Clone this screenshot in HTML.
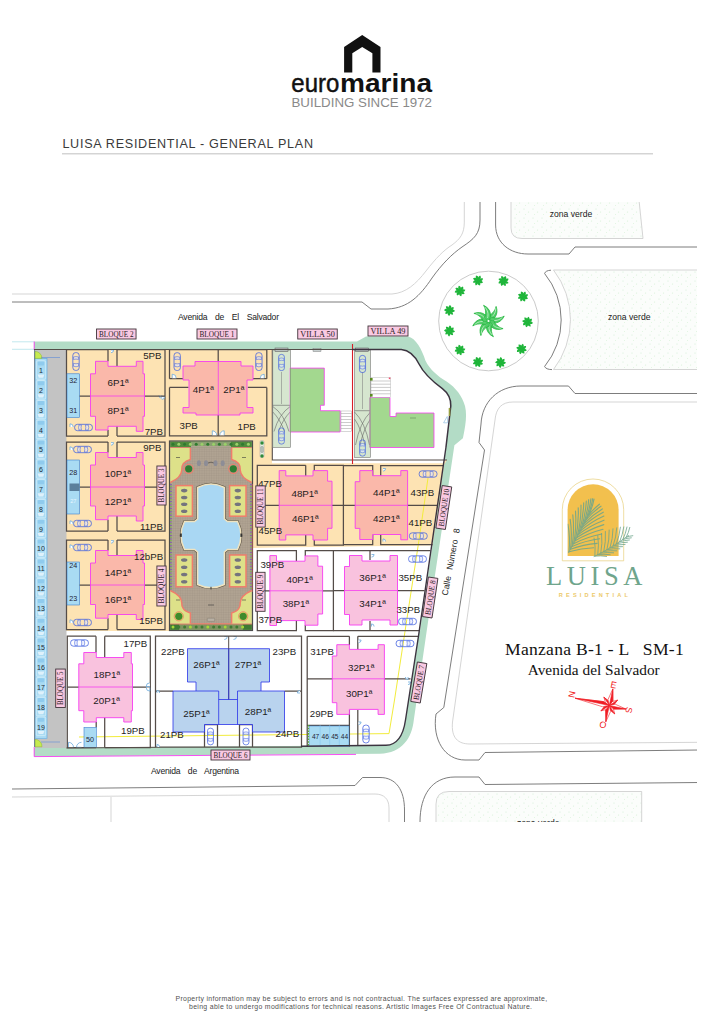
<!DOCTYPE html>
<html lang="en"><head><meta charset="utf-8"><title>Luisa Residential - General Plan</title>
<style>
html,body{margin:0;padding:0;background:#fff}
body{width:724px;height:1024px;overflow:hidden;position:relative;font-family:"Liberation Sans",sans-serif}
svg{position:absolute;left:0;top:0;display:block}
.ss{font-family:"Liberation Sans",sans-serif}
.sf{font-family:"Liberation Serif",serif}
</style></head><body>
<svg width="724" height="1024" viewBox="0 0 724 1024">
<defs>
<clipPath id="mapclip"><rect x="12" y="202" width="685" height="620"/></clipPath>
<pattern id="stip" width="9" height="9" patternUnits="userSpaceOnUse"><rect width="9" height="9" fill="#fbfdfb"/><circle cx="2" cy="2" r="0.55" fill="#d2f0d4"/><circle cx="6.5" cy="5" r="0.55" fill="#d8f2d8"/><circle cx="3.5" cy="7.5" r="0.5" fill="#dcf4dc"/></pattern>
<symbol id="car" viewBox="0 0 20 8" overflow="visible"><rect x="0.5" y="0.6" width="19" height="6.8" rx="3" fill="none" stroke="#4664e0" stroke-width="0.85"/><path d="M5.2 1.3 Q4.2 4 5.2 6.7 H7.8 Q7 4 7.8 1.3Z M12 1.3 Q12.8 4 12 6.7 H15 Q16.2 4 15 1.3Z" fill="#dfe6ff" fill-opacity="0.55" stroke="#4664e0" stroke-width="0.6"/></symbol>
<pattern id="pav" width="2.4" height="2.4" patternUnits="userSpaceOnUse"><rect width="2.4" height="2.4" fill="#b0a392"/><path d="M0 0H2.4M0 0V2.4" stroke="#978a7a" stroke-width="0.35"/></pattern>
<clipPath id="archclip"><path d="M567.6 556 V509.8 A25.5 25.5 0 0 1 618.6 509.8 V556 Z"/></clipPath>
</defs>
<g id="header">
<path d="M362.2 35 L344.1 47.1 V72.5 H352.3 V53.3 L362.2 47.1 L372.4 53.3 V72.5 H380.5 V47.1 Z" fill="#111"/>
<text class="ss" x="291.3" y="92.1" font-size="25" fill="#111" stroke="#111" stroke-width="0.45" textLength="48" lengthAdjust="spacingAndGlyphs">euro</text>
<text class="ss" x="340" y="92.1" font-size="25" font-weight="bold" fill="#111" textLength="92" lengthAdjust="spacingAndGlyphs">marina</text>
<text class="ss" x="291.5" y="106.9" font-size="12.6" fill="#8a8a8a" textLength="140.5" lengthAdjust="spacingAndGlyphs">BUILDING SINCE 1972</text>
<text class="ss" x="62.4" y="148.2" font-size="12.6" fill="#3a3a3a" textLength="250.6" lengthAdjust="spacing">LUISA RESIDENTIAL - GENERAL PLAN</text>
<rect x="62" y="153.4" width="591" height="0.9" fill="#b8b8b8"/>
</g>
<text class="ss" x="361.3" y="1001" font-size="6.9" fill="#505050" text-anchor="middle" textLength="371.6" lengthAdjust="spacing">Property information may be subject to errors and is not contractual. The surfaces expressed are approximate,</text>
<text class="ss" x="360.5" y="1009.2" font-size="6.9" fill="#505050" text-anchor="middle" textLength="343" lengthAdjust="spacing">being able to undergo modifications for technical reasons. Artistic Images Free Of Contractual Nature.</text>
<g id="roads" clip-path="url(#mapclip)" fill="none" stroke-width="0.9">
<path d="M511 200 V228 Q511 238.5 522 238.5 H643 L639 200 Z" fill="url(#stip)" stroke="#d0d0d0"/>
<path d="M700 270 H553.5 A81.5 81.5 0 0 1 553.5 369.5 H700 Z" fill="url(#stip)" stroke="#d0d0d0"/>
<path d="M551 270.2 Q545.5 270.5 544.6 273.5 A73.5 73.5 0 0 1 544.6 366.5 Q546 369.5 552 369.6" stroke="#6e6e6e"/>
<path d="M436 830 V804 Q436 791.5 449 791.5 H641.7 V830 Z" fill="url(#stip)" stroke="#d0d0d0"/>
<path d="M12 294 H392 C406 293 416 284 426 271 C436 258 444 250 452 245 C460 239 464.3 234 464.3 222 V200" stroke="#d0d0d0"/>
<path d="M12 302 H362 L371 309 H388 C408 308 420 296 432 278 C442 264 452 254 462 247 C474 239 480 234 480 220 V200" stroke="#6e6e6e"/>
<path d="M495.6 200 V225 C495.6 243 510 254 528 254 H569 L575 247 H700" stroke="#6e6e6e"/>
<circle cx="488.5" cy="321" r="49.8" stroke="#c4c4c4" fill="#fff"/>
<path d="M700 393.5 H575 L568.5 386 H521 C498 386 482 402 481 424 L479 442.5 L484.5 450 L443.8 707.5 L436 714 C432 740 445 760 465 760 H479 L485 752.5 L700 750" stroke="#6e6e6e"/>
<path d="M700 402 H513 C502 402 496 408 495 420 L452.5 722 C451 738 458 744 470 744 L700 742.3" stroke="#d0d0d0"/>
<path d="M12 789 L355 785.5 L362.5 777.5 H380 C396 777.5 404.5 790 404.5 810 V830" stroke="#6e6e6e"/>
<path d="M12 797 L375 794 C384 794 389 799 389 808 V830" stroke="#d0d0d0"/>
<path d="M111 797 V830" stroke="#d0d0d0"/>
<path d="M700 782.5 L485 784.5 L479 777 H455 C432 777 420 795 420 822 V830" stroke="#6e6e6e"/>
</g>
<g id="palms">
<path transform="translate(478 280.5) rotate(16.0)" d="M0 0 C2.27 -1.62 2.70 -4.05 0.65 -5.40 C-1.19 -3.78 -1.08 -1.62 0 0Z" fill="#1fb53a"/><path transform="translate(478 280.5) rotate(61.0)" d="M0 0 C2.27 -1.62 2.70 -4.05 0.65 -5.40 C-1.19 -3.78 -1.08 -1.62 0 0Z" fill="#1fb53a"/><path transform="translate(478 280.5) rotate(106.0)" d="M0 0 C2.27 -1.62 2.70 -4.05 0.65 -5.40 C-1.19 -3.78 -1.08 -1.62 0 0Z" fill="#1fb53a"/><path transform="translate(478 280.5) rotate(151.0)" d="M0 0 C2.27 -1.62 2.70 -4.05 0.65 -5.40 C-1.19 -3.78 -1.08 -1.62 0 0Z" fill="#1fb53a"/><path transform="translate(478 280.5) rotate(196.0)" d="M0 0 C2.27 -1.62 2.70 -4.05 0.65 -5.40 C-1.19 -3.78 -1.08 -1.62 0 0Z" fill="#1fb53a"/><path transform="translate(478 280.5) rotate(241.0)" d="M0 0 C2.27 -1.62 2.70 -4.05 0.65 -5.40 C-1.19 -3.78 -1.08 -1.62 0 0Z" fill="#1fb53a"/><path transform="translate(478 280.5) rotate(286.0)" d="M0 0 C2.27 -1.62 2.70 -4.05 0.65 -5.40 C-1.19 -3.78 -1.08 -1.62 0 0Z" fill="#1fb53a"/><path transform="translate(478 280.5) rotate(331.0)" d="M0 0 C2.27 -1.62 2.70 -4.05 0.65 -5.40 C-1.19 -3.78 -1.08 -1.62 0 0Z" fill="#1fb53a"/><circle cx="478" cy="280.5" r="1.19" fill="#1fb53a"/>
<path transform="translate(503.5 281) rotate(14.5)" d="M0 0 C2.27 -1.62 2.70 -4.05 0.65 -5.40 C-1.19 -3.78 -1.08 -1.62 0 0Z" fill="#1fb53a"/><path transform="translate(503.5 281) rotate(59.5)" d="M0 0 C2.27 -1.62 2.70 -4.05 0.65 -5.40 C-1.19 -3.78 -1.08 -1.62 0 0Z" fill="#1fb53a"/><path transform="translate(503.5 281) rotate(104.5)" d="M0 0 C2.27 -1.62 2.70 -4.05 0.65 -5.40 C-1.19 -3.78 -1.08 -1.62 0 0Z" fill="#1fb53a"/><path transform="translate(503.5 281) rotate(149.5)" d="M0 0 C2.27 -1.62 2.70 -4.05 0.65 -5.40 C-1.19 -3.78 -1.08 -1.62 0 0Z" fill="#1fb53a"/><path transform="translate(503.5 281) rotate(194.5)" d="M0 0 C2.27 -1.62 2.70 -4.05 0.65 -5.40 C-1.19 -3.78 -1.08 -1.62 0 0Z" fill="#1fb53a"/><path transform="translate(503.5 281) rotate(239.5)" d="M0 0 C2.27 -1.62 2.70 -4.05 0.65 -5.40 C-1.19 -3.78 -1.08 -1.62 0 0Z" fill="#1fb53a"/><path transform="translate(503.5 281) rotate(284.5)" d="M0 0 C2.27 -1.62 2.70 -4.05 0.65 -5.40 C-1.19 -3.78 -1.08 -1.62 0 0Z" fill="#1fb53a"/><path transform="translate(503.5 281) rotate(329.5)" d="M0 0 C2.27 -1.62 2.70 -4.05 0.65 -5.40 C-1.19 -3.78 -1.08 -1.62 0 0Z" fill="#1fb53a"/><circle cx="503.5" cy="281" r="1.19" fill="#1fb53a"/>
<path transform="translate(460 291) rotate(25.0)" d="M0 0 C2.27 -1.62 2.70 -4.05 0.65 -5.40 C-1.19 -3.78 -1.08 -1.62 0 0Z" fill="#1fb53a"/><path transform="translate(460 291) rotate(70.0)" d="M0 0 C2.27 -1.62 2.70 -4.05 0.65 -5.40 C-1.19 -3.78 -1.08 -1.62 0 0Z" fill="#1fb53a"/><path transform="translate(460 291) rotate(115.0)" d="M0 0 C2.27 -1.62 2.70 -4.05 0.65 -5.40 C-1.19 -3.78 -1.08 -1.62 0 0Z" fill="#1fb53a"/><path transform="translate(460 291) rotate(160.0)" d="M0 0 C2.27 -1.62 2.70 -4.05 0.65 -5.40 C-1.19 -3.78 -1.08 -1.62 0 0Z" fill="#1fb53a"/><path transform="translate(460 291) rotate(205.0)" d="M0 0 C2.27 -1.62 2.70 -4.05 0.65 -5.40 C-1.19 -3.78 -1.08 -1.62 0 0Z" fill="#1fb53a"/><path transform="translate(460 291) rotate(250.0)" d="M0 0 C2.27 -1.62 2.70 -4.05 0.65 -5.40 C-1.19 -3.78 -1.08 -1.62 0 0Z" fill="#1fb53a"/><path transform="translate(460 291) rotate(295.0)" d="M0 0 C2.27 -1.62 2.70 -4.05 0.65 -5.40 C-1.19 -3.78 -1.08 -1.62 0 0Z" fill="#1fb53a"/><path transform="translate(460 291) rotate(340.0)" d="M0 0 C2.27 -1.62 2.70 -4.05 0.65 -5.40 C-1.19 -3.78 -1.08 -1.62 0 0Z" fill="#1fb53a"/><circle cx="460" cy="291" r="1.19" fill="#1fb53a"/>
<path transform="translate(523 296.5) rotate(16.0)" d="M0 0 C2.27 -1.62 2.70 -4.05 0.65 -5.40 C-1.19 -3.78 -1.08 -1.62 0 0Z" fill="#1fb53a"/><path transform="translate(523 296.5) rotate(61.0)" d="M0 0 C2.27 -1.62 2.70 -4.05 0.65 -5.40 C-1.19 -3.78 -1.08 -1.62 0 0Z" fill="#1fb53a"/><path transform="translate(523 296.5) rotate(106.0)" d="M0 0 C2.27 -1.62 2.70 -4.05 0.65 -5.40 C-1.19 -3.78 -1.08 -1.62 0 0Z" fill="#1fb53a"/><path transform="translate(523 296.5) rotate(151.0)" d="M0 0 C2.27 -1.62 2.70 -4.05 0.65 -5.40 C-1.19 -3.78 -1.08 -1.62 0 0Z" fill="#1fb53a"/><path transform="translate(523 296.5) rotate(196.0)" d="M0 0 C2.27 -1.62 2.70 -4.05 0.65 -5.40 C-1.19 -3.78 -1.08 -1.62 0 0Z" fill="#1fb53a"/><path transform="translate(523 296.5) rotate(241.0)" d="M0 0 C2.27 -1.62 2.70 -4.05 0.65 -5.40 C-1.19 -3.78 -1.08 -1.62 0 0Z" fill="#1fb53a"/><path transform="translate(523 296.5) rotate(286.0)" d="M0 0 C2.27 -1.62 2.70 -4.05 0.65 -5.40 C-1.19 -3.78 -1.08 -1.62 0 0Z" fill="#1fb53a"/><path transform="translate(523 296.5) rotate(331.0)" d="M0 0 C2.27 -1.62 2.70 -4.05 0.65 -5.40 C-1.19 -3.78 -1.08 -1.62 0 0Z" fill="#1fb53a"/><circle cx="523" cy="296.5" r="1.19" fill="#1fb53a"/>
<path transform="translate(449.5 310.5) rotate(41.5)" d="M0 0 C2.27 -1.62 2.70 -4.05 0.65 -5.40 C-1.19 -3.78 -1.08 -1.62 0 0Z" fill="#1fb53a"/><path transform="translate(449.5 310.5) rotate(86.5)" d="M0 0 C2.27 -1.62 2.70 -4.05 0.65 -5.40 C-1.19 -3.78 -1.08 -1.62 0 0Z" fill="#1fb53a"/><path transform="translate(449.5 310.5) rotate(131.5)" d="M0 0 C2.27 -1.62 2.70 -4.05 0.65 -5.40 C-1.19 -3.78 -1.08 -1.62 0 0Z" fill="#1fb53a"/><path transform="translate(449.5 310.5) rotate(176.5)" d="M0 0 C2.27 -1.62 2.70 -4.05 0.65 -5.40 C-1.19 -3.78 -1.08 -1.62 0 0Z" fill="#1fb53a"/><path transform="translate(449.5 310.5) rotate(221.5)" d="M0 0 C2.27 -1.62 2.70 -4.05 0.65 -5.40 C-1.19 -3.78 -1.08 -1.62 0 0Z" fill="#1fb53a"/><path transform="translate(449.5 310.5) rotate(266.5)" d="M0 0 C2.27 -1.62 2.70 -4.05 0.65 -5.40 C-1.19 -3.78 -1.08 -1.62 0 0Z" fill="#1fb53a"/><path transform="translate(449.5 310.5) rotate(311.5)" d="M0 0 C2.27 -1.62 2.70 -4.05 0.65 -5.40 C-1.19 -3.78 -1.08 -1.62 0 0Z" fill="#1fb53a"/><path transform="translate(449.5 310.5) rotate(356.5)" d="M0 0 C2.27 -1.62 2.70 -4.05 0.65 -5.40 C-1.19 -3.78 -1.08 -1.62 0 0Z" fill="#1fb53a"/><circle cx="449.5" cy="310.5" r="1.19" fill="#1fb53a"/>
<path transform="translate(527.5 322) rotate(2.5)" d="M0 0 C2.27 -1.62 2.70 -4.05 0.65 -5.40 C-1.19 -3.78 -1.08 -1.62 0 0Z" fill="#1fb53a"/><path transform="translate(527.5 322) rotate(47.5)" d="M0 0 C2.27 -1.62 2.70 -4.05 0.65 -5.40 C-1.19 -3.78 -1.08 -1.62 0 0Z" fill="#1fb53a"/><path transform="translate(527.5 322) rotate(92.5)" d="M0 0 C2.27 -1.62 2.70 -4.05 0.65 -5.40 C-1.19 -3.78 -1.08 -1.62 0 0Z" fill="#1fb53a"/><path transform="translate(527.5 322) rotate(137.5)" d="M0 0 C2.27 -1.62 2.70 -4.05 0.65 -5.40 C-1.19 -3.78 -1.08 -1.62 0 0Z" fill="#1fb53a"/><path transform="translate(527.5 322) rotate(182.5)" d="M0 0 C2.27 -1.62 2.70 -4.05 0.65 -5.40 C-1.19 -3.78 -1.08 -1.62 0 0Z" fill="#1fb53a"/><path transform="translate(527.5 322) rotate(227.5)" d="M0 0 C2.27 -1.62 2.70 -4.05 0.65 -5.40 C-1.19 -3.78 -1.08 -1.62 0 0Z" fill="#1fb53a"/><path transform="translate(527.5 322) rotate(272.5)" d="M0 0 C2.27 -1.62 2.70 -4.05 0.65 -5.40 C-1.19 -3.78 -1.08 -1.62 0 0Z" fill="#1fb53a"/><path transform="translate(527.5 322) rotate(317.5)" d="M0 0 C2.27 -1.62 2.70 -4.05 0.65 -5.40 C-1.19 -3.78 -1.08 -1.62 0 0Z" fill="#1fb53a"/><circle cx="527.5" cy="322" r="1.19" fill="#1fb53a"/>
<path transform="translate(449.5 331) rotate(41.5)" d="M0 0 C2.27 -1.62 2.70 -4.05 0.65 -5.40 C-1.19 -3.78 -1.08 -1.62 0 0Z" fill="#1fb53a"/><path transform="translate(449.5 331) rotate(86.5)" d="M0 0 C2.27 -1.62 2.70 -4.05 0.65 -5.40 C-1.19 -3.78 -1.08 -1.62 0 0Z" fill="#1fb53a"/><path transform="translate(449.5 331) rotate(131.5)" d="M0 0 C2.27 -1.62 2.70 -4.05 0.65 -5.40 C-1.19 -3.78 -1.08 -1.62 0 0Z" fill="#1fb53a"/><path transform="translate(449.5 331) rotate(176.5)" d="M0 0 C2.27 -1.62 2.70 -4.05 0.65 -5.40 C-1.19 -3.78 -1.08 -1.62 0 0Z" fill="#1fb53a"/><path transform="translate(449.5 331) rotate(221.5)" d="M0 0 C2.27 -1.62 2.70 -4.05 0.65 -5.40 C-1.19 -3.78 -1.08 -1.62 0 0Z" fill="#1fb53a"/><path transform="translate(449.5 331) rotate(266.5)" d="M0 0 C2.27 -1.62 2.70 -4.05 0.65 -5.40 C-1.19 -3.78 -1.08 -1.62 0 0Z" fill="#1fb53a"/><path transform="translate(449.5 331) rotate(311.5)" d="M0 0 C2.27 -1.62 2.70 -4.05 0.65 -5.40 C-1.19 -3.78 -1.08 -1.62 0 0Z" fill="#1fb53a"/><path transform="translate(449.5 331) rotate(356.5)" d="M0 0 C2.27 -1.62 2.70 -4.05 0.65 -5.40 C-1.19 -3.78 -1.08 -1.62 0 0Z" fill="#1fb53a"/><circle cx="449.5" cy="331" r="1.19" fill="#1fb53a"/>
<path transform="translate(460 350) rotate(25.0)" d="M0 0 C2.27 -1.62 2.70 -4.05 0.65 -5.40 C-1.19 -3.78 -1.08 -1.62 0 0Z" fill="#1fb53a"/><path transform="translate(460 350) rotate(70.0)" d="M0 0 C2.27 -1.62 2.70 -4.05 0.65 -5.40 C-1.19 -3.78 -1.08 -1.62 0 0Z" fill="#1fb53a"/><path transform="translate(460 350) rotate(115.0)" d="M0 0 C2.27 -1.62 2.70 -4.05 0.65 -5.40 C-1.19 -3.78 -1.08 -1.62 0 0Z" fill="#1fb53a"/><path transform="translate(460 350) rotate(160.0)" d="M0 0 C2.27 -1.62 2.70 -4.05 0.65 -5.40 C-1.19 -3.78 -1.08 -1.62 0 0Z" fill="#1fb53a"/><path transform="translate(460 350) rotate(205.0)" d="M0 0 C2.27 -1.62 2.70 -4.05 0.65 -5.40 C-1.19 -3.78 -1.08 -1.62 0 0Z" fill="#1fb53a"/><path transform="translate(460 350) rotate(250.0)" d="M0 0 C2.27 -1.62 2.70 -4.05 0.65 -5.40 C-1.19 -3.78 -1.08 -1.62 0 0Z" fill="#1fb53a"/><path transform="translate(460 350) rotate(295.0)" d="M0 0 C2.27 -1.62 2.70 -4.05 0.65 -5.40 C-1.19 -3.78 -1.08 -1.62 0 0Z" fill="#1fb53a"/><path transform="translate(460 350) rotate(340.0)" d="M0 0 C2.27 -1.62 2.70 -4.05 0.65 -5.40 C-1.19 -3.78 -1.08 -1.62 0 0Z" fill="#1fb53a"/><circle cx="460" cy="350" r="1.19" fill="#1fb53a"/>
<path transform="translate(521.5 349) rotate(5.5)" d="M0 0 C2.27 -1.62 2.70 -4.05 0.65 -5.40 C-1.19 -3.78 -1.08 -1.62 0 0Z" fill="#1fb53a"/><path transform="translate(521.5 349) rotate(50.5)" d="M0 0 C2.27 -1.62 2.70 -4.05 0.65 -5.40 C-1.19 -3.78 -1.08 -1.62 0 0Z" fill="#1fb53a"/><path transform="translate(521.5 349) rotate(95.5)" d="M0 0 C2.27 -1.62 2.70 -4.05 0.65 -5.40 C-1.19 -3.78 -1.08 -1.62 0 0Z" fill="#1fb53a"/><path transform="translate(521.5 349) rotate(140.5)" d="M0 0 C2.27 -1.62 2.70 -4.05 0.65 -5.40 C-1.19 -3.78 -1.08 -1.62 0 0Z" fill="#1fb53a"/><path transform="translate(521.5 349) rotate(185.5)" d="M0 0 C2.27 -1.62 2.70 -4.05 0.65 -5.40 C-1.19 -3.78 -1.08 -1.62 0 0Z" fill="#1fb53a"/><path transform="translate(521.5 349) rotate(230.5)" d="M0 0 C2.27 -1.62 2.70 -4.05 0.65 -5.40 C-1.19 -3.78 -1.08 -1.62 0 0Z" fill="#1fb53a"/><path transform="translate(521.5 349) rotate(275.5)" d="M0 0 C2.27 -1.62 2.70 -4.05 0.65 -5.40 C-1.19 -3.78 -1.08 -1.62 0 0Z" fill="#1fb53a"/><path transform="translate(521.5 349) rotate(320.5)" d="M0 0 C2.27 -1.62 2.70 -4.05 0.65 -5.40 C-1.19 -3.78 -1.08 -1.62 0 0Z" fill="#1fb53a"/><circle cx="521.5" cy="349" r="1.19" fill="#1fb53a"/>
<path transform="translate(478 362) rotate(16.0)" d="M0 0 C2.27 -1.62 2.70 -4.05 0.65 -5.40 C-1.19 -3.78 -1.08 -1.62 0 0Z" fill="#1fb53a"/><path transform="translate(478 362) rotate(61.0)" d="M0 0 C2.27 -1.62 2.70 -4.05 0.65 -5.40 C-1.19 -3.78 -1.08 -1.62 0 0Z" fill="#1fb53a"/><path transform="translate(478 362) rotate(106.0)" d="M0 0 C2.27 -1.62 2.70 -4.05 0.65 -5.40 C-1.19 -3.78 -1.08 -1.62 0 0Z" fill="#1fb53a"/><path transform="translate(478 362) rotate(151.0)" d="M0 0 C2.27 -1.62 2.70 -4.05 0.65 -5.40 C-1.19 -3.78 -1.08 -1.62 0 0Z" fill="#1fb53a"/><path transform="translate(478 362) rotate(196.0)" d="M0 0 C2.27 -1.62 2.70 -4.05 0.65 -5.40 C-1.19 -3.78 -1.08 -1.62 0 0Z" fill="#1fb53a"/><path transform="translate(478 362) rotate(241.0)" d="M0 0 C2.27 -1.62 2.70 -4.05 0.65 -5.40 C-1.19 -3.78 -1.08 -1.62 0 0Z" fill="#1fb53a"/><path transform="translate(478 362) rotate(286.0)" d="M0 0 C2.27 -1.62 2.70 -4.05 0.65 -5.40 C-1.19 -3.78 -1.08 -1.62 0 0Z" fill="#1fb53a"/><path transform="translate(478 362) rotate(331.0)" d="M0 0 C2.27 -1.62 2.70 -4.05 0.65 -5.40 C-1.19 -3.78 -1.08 -1.62 0 0Z" fill="#1fb53a"/><circle cx="478" cy="362" r="1.19" fill="#1fb53a"/>
<path transform="translate(500.5 362.5) rotate(38.5)" d="M0 0 C2.27 -1.62 2.70 -4.05 0.65 -5.40 C-1.19 -3.78 -1.08 -1.62 0 0Z" fill="#1fb53a"/><path transform="translate(500.5 362.5) rotate(83.5)" d="M0 0 C2.27 -1.62 2.70 -4.05 0.65 -5.40 C-1.19 -3.78 -1.08 -1.62 0 0Z" fill="#1fb53a"/><path transform="translate(500.5 362.5) rotate(128.5)" d="M0 0 C2.27 -1.62 2.70 -4.05 0.65 -5.40 C-1.19 -3.78 -1.08 -1.62 0 0Z" fill="#1fb53a"/><path transform="translate(500.5 362.5) rotate(173.5)" d="M0 0 C2.27 -1.62 2.70 -4.05 0.65 -5.40 C-1.19 -3.78 -1.08 -1.62 0 0Z" fill="#1fb53a"/><path transform="translate(500.5 362.5) rotate(218.5)" d="M0 0 C2.27 -1.62 2.70 -4.05 0.65 -5.40 C-1.19 -3.78 -1.08 -1.62 0 0Z" fill="#1fb53a"/><path transform="translate(500.5 362.5) rotate(263.5)" d="M0 0 C2.27 -1.62 2.70 -4.05 0.65 -5.40 C-1.19 -3.78 -1.08 -1.62 0 0Z" fill="#1fb53a"/><path transform="translate(500.5 362.5) rotate(308.5)" d="M0 0 C2.27 -1.62 2.70 -4.05 0.65 -5.40 C-1.19 -3.78 -1.08 -1.62 0 0Z" fill="#1fb53a"/><path transform="translate(500.5 362.5) rotate(353.5)" d="M0 0 C2.27 -1.62 2.70 -4.05 0.65 -5.40 C-1.19 -3.78 -1.08 -1.62 0 0Z" fill="#1fb53a"/><circle cx="500.5" cy="362.5" r="1.19" fill="#1fb53a"/>
<path transform="translate(488.5 321) rotate(8)" d="M0 0 C5.5 -1.5 9.5 -8 5.5 -15.5 C5 -10.5 2 -6.5 -1.2 -5.2 C-1.6 -3 -1 -1 0 0Z" fill="#4fcb66" stroke="#1fb53a" stroke-width="0.7"/><path transform="translate(488.5 321) rotate(8)" d="M1 -3 C4.5 -5.5 6 -9.5 5.3 -13.5" fill="none" stroke="#e4fbe6" stroke-width="0.6"/><path transform="translate(488.5 321) rotate(53)" d="M0 0 C5.5 -1.5 9.5 -8 5.5 -15.5 C5 -10.5 2 -6.5 -1.2 -5.2 C-1.6 -3 -1 -1 0 0Z" fill="#4fcb66" stroke="#1fb53a" stroke-width="0.7"/><path transform="translate(488.5 321) rotate(53)" d="M1 -3 C4.5 -5.5 6 -9.5 5.3 -13.5" fill="none" stroke="#e4fbe6" stroke-width="0.6"/><path transform="translate(488.5 321) rotate(98)" d="M0 0 C5.5 -1.5 9.5 -8 5.5 -15.5 C5 -10.5 2 -6.5 -1.2 -5.2 C-1.6 -3 -1 -1 0 0Z" fill="#4fcb66" stroke="#1fb53a" stroke-width="0.7"/><path transform="translate(488.5 321) rotate(98)" d="M1 -3 C4.5 -5.5 6 -9.5 5.3 -13.5" fill="none" stroke="#e4fbe6" stroke-width="0.6"/><path transform="translate(488.5 321) rotate(143)" d="M0 0 C5.5 -1.5 9.5 -8 5.5 -15.5 C5 -10.5 2 -6.5 -1.2 -5.2 C-1.6 -3 -1 -1 0 0Z" fill="#4fcb66" stroke="#1fb53a" stroke-width="0.7"/><path transform="translate(488.5 321) rotate(143)" d="M1 -3 C4.5 -5.5 6 -9.5 5.3 -13.5" fill="none" stroke="#e4fbe6" stroke-width="0.6"/><path transform="translate(488.5 321) rotate(188)" d="M0 0 C5.5 -1.5 9.5 -8 5.5 -15.5 C5 -10.5 2 -6.5 -1.2 -5.2 C-1.6 -3 -1 -1 0 0Z" fill="#4fcb66" stroke="#1fb53a" stroke-width="0.7"/><path transform="translate(488.5 321) rotate(188)" d="M1 -3 C4.5 -5.5 6 -9.5 5.3 -13.5" fill="none" stroke="#e4fbe6" stroke-width="0.6"/><path transform="translate(488.5 321) rotate(233)" d="M0 0 C5.5 -1.5 9.5 -8 5.5 -15.5 C5 -10.5 2 -6.5 -1.2 -5.2 C-1.6 -3 -1 -1 0 0Z" fill="#4fcb66" stroke="#1fb53a" stroke-width="0.7"/><path transform="translate(488.5 321) rotate(233)" d="M1 -3 C4.5 -5.5 6 -9.5 5.3 -13.5" fill="none" stroke="#e4fbe6" stroke-width="0.6"/><path transform="translate(488.5 321) rotate(278)" d="M0 0 C5.5 -1.5 9.5 -8 5.5 -15.5 C5 -10.5 2 -6.5 -1.2 -5.2 C-1.6 -3 -1 -1 0 0Z" fill="#4fcb66" stroke="#1fb53a" stroke-width="0.7"/><path transform="translate(488.5 321) rotate(278)" d="M1 -3 C4.5 -5.5 6 -9.5 5.3 -13.5" fill="none" stroke="#e4fbe6" stroke-width="0.6"/><path transform="translate(488.5 321) rotate(323)" d="M0 0 C5.5 -1.5 9.5 -8 5.5 -15.5 C5 -10.5 2 -6.5 -1.2 -5.2 C-1.6 -3 -1 -1 0 0Z" fill="#4fcb66" stroke="#1fb53a" stroke-width="0.7"/><path transform="translate(488.5 321) rotate(323)" d="M1 -3 C4.5 -5.5 6 -9.5 5.3 -13.5" fill="none" stroke="#e4fbe6" stroke-width="0.6"/><circle cx="488.5" cy="321" r="1.1" fill="#fff"/>
</g>
<text class="ss" x="549.7" y="216.6" font-size="8.6" text-anchor="start" fill="#222" >zona verde</text>
<text class="ss" x="608" y="320.2" font-size="8.6" text-anchor="start" fill="#222" >zona verde</text>
<g clip-path="url(#mapclip)">
<text class="ss" x="517" y="825.6" font-size="8.6" text-anchor="start" fill="#222" >zona verde</text>
</g>
<g id="plan">
<path d="M34 341.6 H357 L366 336.6 H407.7 C416 338 422 350 425.4 360.4 C430 370 438 376 446.6 381.6 C456 388 462 396 465 406 C467 414 466 424 462.9 438.2 L454.4 445.3 L428 622 L413.8 720 C412 738 402 753 380 753.8 L34 756.6 Z" fill="#b3dcc6"/>
<path d="M12 341.8 H34 M12 349.3 H34" fill="none" stroke="#a8e0e8" stroke-width="0.7" />
<path id="inner" d="M34 349.5 H401.3 C410 350.3 415 356 419 364 C424 374 432 381 442.4 388.7 C448 393 451 398 450.8 406 L446 447 L418.5 636 L405.5 720 C403 737 396 745 386 745.3 L34 748 Z" fill="#fff"/>
<path d="M66 349.5 H272 V460 H447 L444 465 L432.5 545.5 L253 548 V631 H66 Z" fill="#fde3b3"/>
<path d="M272 349.5 H401.3 C410 350.3 415 356 419 364 C424 374 432 381 442.4 388.7 C448 393 451 398 450.8 406 L446 447 L443.6 463.2 H272Z" fill="#fff"/>
<path d="M253 548 L432.3 545.8 L420 631 H253Z" fill="#fff"/>
<path d="M79 737 L238 735.2 L389 733.6 L394.5 700 L419 540 L428 478" fill="none" stroke="#f2ec3c" stroke-width="1.0" />
<rect x="47" y="349.5" width="19.5" height="398.5" fill="#c3c3c3"/><rect x="34.6" y="349.5" width="13" height="9.5" fill="#c3c3c3"/><rect x="34.6" y="738.5" width="13" height="9.5" fill="#c3c3c3"/>
<rect x="35" y="358.5" width="12" height="380" fill="#a9dbf3" stroke="#5aa6dc" stroke-width="0.6"/>
<rect x="36.3" y="360.8" width="9.4" height="18.4" rx="1" fill="none" stroke="#d9f0fb" stroke-width="0.7"/>
<path d="M37.6 374.5 h6.8 l-1.2 3.2 h-4.4z" fill="#dff1fb"/><rect x="37.8" y="361.4" width="6.4" height="4" rx="1" fill="#8fcbee"/>
<text class="ss" x="41" y="373.2" font-size="7" text-anchor="middle" fill="#1e2a36" >1</text>
<rect x="36.3" y="380.6" width="9.4" height="18.4" rx="1" fill="none" stroke="#d9f0fb" stroke-width="0.7"/>
<path d="M37.6 394.3 h6.8 l-1.2 3.2 h-4.4z" fill="#dff1fb"/><rect x="37.8" y="381.2" width="6.4" height="4" rx="1" fill="#8fcbee"/>
<text class="ss" x="41" y="393.0" font-size="7" text-anchor="middle" fill="#1e2a36" >2</text>
<rect x="36.3" y="400.4" width="9.4" height="18.4" rx="1" fill="none" stroke="#d9f0fb" stroke-width="0.7"/>
<path d="M37.6 414.1 h6.8 l-1.2 3.2 h-4.4z" fill="#dff1fb"/><rect x="37.8" y="401.0" width="6.4" height="4" rx="1" fill="#8fcbee"/>
<text class="ss" x="41" y="412.8" font-size="7" text-anchor="middle" fill="#1e2a36" >3</text>
<rect x="36.3" y="420.2" width="9.4" height="18.4" rx="1" fill="none" stroke="#d9f0fb" stroke-width="0.7"/>
<path d="M37.6 433.9 h6.8 l-1.2 3.2 h-4.4z" fill="#dff1fb"/><rect x="37.8" y="420.8" width="6.4" height="4" rx="1" fill="#8fcbee"/>
<text class="ss" x="41" y="432.59999999999997" font-size="7" text-anchor="middle" fill="#1e2a36" >4</text>
<rect x="36.3" y="440.0" width="9.4" height="18.4" rx="1" fill="none" stroke="#d9f0fb" stroke-width="0.7"/>
<path d="M37.6 453.7 h6.8 l-1.2 3.2 h-4.4z" fill="#dff1fb"/><rect x="37.8" y="440.6" width="6.4" height="4" rx="1" fill="#8fcbee"/>
<text class="ss" x="41" y="452.4" font-size="7" text-anchor="middle" fill="#1e2a36" >5</text>
<rect x="36.3" y="459.8" width="9.4" height="18.4" rx="1" fill="none" stroke="#d9f0fb" stroke-width="0.7"/>
<path d="M37.6 473.5 h6.8 l-1.2 3.2 h-4.4z" fill="#dff1fb"/><rect x="37.8" y="460.4" width="6.4" height="4" rx="1" fill="#8fcbee"/>
<text class="ss" x="41" y="472.2" font-size="7" text-anchor="middle" fill="#1e2a36" >6</text>
<rect x="36.3" y="479.6" width="9.4" height="18.4" rx="1" fill="none" stroke="#d9f0fb" stroke-width="0.7"/>
<path d="M37.6 493.3 h6.8 l-1.2 3.2 h-4.4z" fill="#dff1fb"/><rect x="37.8" y="480.2" width="6.4" height="4" rx="1" fill="#8fcbee"/>
<text class="ss" x="41" y="492.0" font-size="7" text-anchor="middle" fill="#1e2a36" >7</text>
<rect x="36.3" y="499.4" width="9.4" height="18.4" rx="1" fill="none" stroke="#d9f0fb" stroke-width="0.7"/>
<path d="M37.6 513.1 h6.8 l-1.2 3.2 h-4.4z" fill="#dff1fb"/><rect x="37.8" y="500.0" width="6.4" height="4" rx="1" fill="#8fcbee"/>
<text class="ss" x="41" y="511.8" font-size="7" text-anchor="middle" fill="#1e2a36" >8</text>
<rect x="36.3" y="519.2" width="9.4" height="18.4" rx="1" fill="none" stroke="#d9f0fb" stroke-width="0.7"/>
<path d="M37.6 532.9 h6.8 l-1.2 3.2 h-4.4z" fill="#dff1fb"/><rect x="37.8" y="519.8" width="6.4" height="4" rx="1" fill="#8fcbee"/>
<text class="ss" x="41" y="531.6" font-size="7" text-anchor="middle" fill="#1e2a36" >9</text>
<rect x="36.3" y="539.0" width="9.4" height="18.4" rx="1" fill="none" stroke="#d9f0fb" stroke-width="0.7"/>
<path d="M37.6 552.7 h6.8 l-1.2 3.2 h-4.4z" fill="#dff1fb"/><rect x="37.8" y="539.6" width="6.4" height="4" rx="1" fill="#8fcbee"/>
<text class="ss" x="41" y="551.4000000000001" font-size="7" text-anchor="middle" fill="#1e2a36" >10</text>
<rect x="36.3" y="558.8" width="9.4" height="18.4" rx="1" fill="none" stroke="#d9f0fb" stroke-width="0.7"/>
<path d="M37.6 572.5 h6.8 l-1.2 3.2 h-4.4z" fill="#dff1fb"/><rect x="37.8" y="559.4" width="6.4" height="4" rx="1" fill="#8fcbee"/>
<text class="ss" x="41" y="571.2" font-size="7" text-anchor="middle" fill="#1e2a36" >11</text>
<rect x="36.3" y="578.6" width="9.4" height="18.4" rx="1" fill="none" stroke="#d9f0fb" stroke-width="0.7"/>
<path d="M37.6 592.3 h6.8 l-1.2 3.2 h-4.4z" fill="#dff1fb"/><rect x="37.8" y="579.2" width="6.4" height="4" rx="1" fill="#8fcbee"/>
<text class="ss" x="41" y="591.0" font-size="7" text-anchor="middle" fill="#1e2a36" >12</text>
<rect x="36.3" y="598.4" width="9.4" height="18.4" rx="1" fill="none" stroke="#d9f0fb" stroke-width="0.7"/>
<path d="M37.6 612.1 h6.8 l-1.2 3.2 h-4.4z" fill="#dff1fb"/><rect x="37.8" y="599.0" width="6.4" height="4" rx="1" fill="#8fcbee"/>
<text class="ss" x="41" y="610.8000000000001" font-size="7" text-anchor="middle" fill="#1e2a36" >13</text>
<rect x="36.3" y="618.2" width="9.4" height="18.4" rx="1" fill="none" stroke="#d9f0fb" stroke-width="0.7"/>
<path d="M37.6 631.9 h6.8 l-1.2 3.2 h-4.4z" fill="#dff1fb"/><rect x="37.8" y="618.8" width="6.4" height="4" rx="1" fill="#8fcbee"/>
<text class="ss" x="41" y="630.6000000000001" font-size="7" text-anchor="middle" fill="#1e2a36" >14</text>
<rect x="36.3" y="638.0" width="9.4" height="18.4" rx="1" fill="none" stroke="#d9f0fb" stroke-width="0.7"/>
<path d="M37.6 651.7 h6.8 l-1.2 3.2 h-4.4z" fill="#dff1fb"/><rect x="37.8" y="638.6" width="6.4" height="4" rx="1" fill="#8fcbee"/>
<text class="ss" x="41" y="650.4000000000001" font-size="7" text-anchor="middle" fill="#1e2a36" >15</text>
<rect x="36.3" y="657.8" width="9.4" height="18.4" rx="1" fill="none" stroke="#d9f0fb" stroke-width="0.7"/>
<path d="M37.6 671.5 h6.8 l-1.2 3.2 h-4.4z" fill="#dff1fb"/><rect x="37.8" y="658.4" width="6.4" height="4" rx="1" fill="#8fcbee"/>
<text class="ss" x="41" y="670.2" font-size="7" text-anchor="middle" fill="#1e2a36" >16</text>
<rect x="36.3" y="677.6" width="9.4" height="18.4" rx="1" fill="none" stroke="#d9f0fb" stroke-width="0.7"/>
<path d="M37.6 691.3 h6.8 l-1.2 3.2 h-4.4z" fill="#dff1fb"/><rect x="37.8" y="678.2" width="6.4" height="4" rx="1" fill="#8fcbee"/>
<text class="ss" x="41" y="690.0" font-size="7" text-anchor="middle" fill="#1e2a36" >17</text>
<rect x="36.3" y="697.4" width="9.4" height="18.4" rx="1" fill="none" stroke="#d9f0fb" stroke-width="0.7"/>
<path d="M37.6 711.1 h6.8 l-1.2 3.2 h-4.4z" fill="#dff1fb"/><rect x="37.8" y="698.0" width="6.4" height="4" rx="1" fill="#8fcbee"/>
<text class="ss" x="41" y="709.8000000000001" font-size="7" text-anchor="middle" fill="#1e2a36" >18</text>
<rect x="36.3" y="717.2" width="9.4" height="18.4" rx="1" fill="none" stroke="#d9f0fb" stroke-width="0.7"/>
<path d="M37.6 730.9 h6.8 l-1.2 3.2 h-4.4z" fill="#dff1fb"/><rect x="37.8" y="717.8" width="6.4" height="4" rx="1" fill="#8fcbee"/>
<text class="ss" x="41" y="729.6000000000001" font-size="7" text-anchor="middle" fill="#1e2a36" >19</text>
<path d="M35 358.4 V351.4 A7 7 0 0 1 42 358.4Z" fill="#c6ea50" stroke="#8ab830" stroke-width="0.5"/>
<path d="M35 739.4 V746.8 H42 A7 7 0 0 0 35 739.4Z" fill="#c6ea50" stroke="#8ab830" stroke-width="0.5"/>
<path d="M41 357.5 H60" fill="none" stroke="#5a8ad8" stroke-width="0.6" />
<path d="M41 742 H60" fill="none" stroke="#5a8ad8" stroke-width="0.6" />
<path d="M34.2 341.5 V350 M34.2 747 V756.6 L356 754.4" fill="none" stroke="#f63cf0" stroke-width="0.9" />
<path d="M34.6 350 V747" fill="none" stroke="#5e7484" stroke-width="0.9" />
<path d="M108 349.5 H66.5 V436 H108 M117 349.5 H165 V436 H117" fill="none" stroke="#544c48" stroke-width="1.25" />
<path transform="translate(161.8 395.4) rotate(180) scale(1 1)" d="M0 0 V-2.8 A2.8 2.8 0 0 1 2.8 0" fill="#fff" stroke="#5aa0d8" stroke-width="0.7"/>
<path transform="translate(161.8 396.6) rotate(90) scale(1 1)" d="M0 0 V-2.8 A2.8 2.8 0 0 1 2.8 0" fill="#fff" stroke="#5aa0d8" stroke-width="0.7"/>
<path transform="translate(111 350.1) rotate(90) scale(1 1)" d="M0 0 V-2.6 A2.6 2.6 0 0 1 2.6 0" fill="#fff" stroke="#5aa0d8" stroke-width="0.7"/>
<rect x="67" y="373.8" width="12.6" height="43.69999999999999" fill="#a9dbf3" stroke="#3d7fd0" stroke-width="0.6"/>
<path d="M79.6 396 H165" fill="none" stroke="#544c48" stroke-width="1.25" />
<path d="M117 349.5 V366.3 M108 349.5 V361.3 M117 426.3 V436 M108 430.0 V436" fill="none" stroke="#544c48" stroke-width="1.25" />
<path d="M95.5 361.3 L108 361.3 L108 366.3 L136.3 366.3 L136.3 361.3 L143 361.3 L143 373.8 L144.5 373.8 L144.5 416.3 L143 416.3 L143 431.3 L136.3 431.3 L136.3 426.3 L108 426.3 L108 430.0 L95.5 430.0 L95.5 416.3 L90.5 416.3 L90.5 373.8 L95.5 373.8Z" fill="#fab8aa" stroke="#f63cf0" stroke-width="0.9" />
<path d="M90.5 396 H144.5" fill="none" stroke="#f63cf0" stroke-width="0.8" />
<text class="ss" x="118" y="386.028" font-size="9.8" text-anchor="middle" fill="#1c1c1c" >6P1ª</text>
<text class="ss" x="118" y="413.528" font-size="9.8" text-anchor="middle" fill="#1c1c1c" >8P1ª</text>
<text class="ss" x="161.5" y="358.992" font-size="9.7" text-anchor="end" fill="#1e1e1e" >5PB</text>
<text class="ss" x="163" y="434.992" font-size="9.7" text-anchor="end" fill="#1e1e1e" >7PB</text>
<use href="#car" x="-9.5" y="-3.75" width="19" height="7.5" transform="translate(76 361.5) rotate(90)"/>
<use href="#car" x="-11.0" y="-3.75" width="22" height="7.5" transform="translate(83.5 427.5) rotate(0)"/>
<text class="ss" x="73.3" y="383" font-size="7.2" text-anchor="middle" fill="#223" >32</text>
<text class="ss" x="73.3" y="413" font-size="7.2" text-anchor="middle" fill="#223" >31</text>
<path d="M108 442 H66.5 V531 H108 M117 442 H165 V531 H117" fill="none" stroke="#544c48" stroke-width="1.25" />
<path transform="translate(161.8 486.4) rotate(180) scale(1 1)" d="M0 0 V-2.8 A2.8 2.8 0 0 1 2.8 0" fill="#fff" stroke="#5aa0d8" stroke-width="0.7"/>
<path transform="translate(161.8 487.6) rotate(90) scale(1 1)" d="M0 0 V-2.8 A2.8 2.8 0 0 1 2.8 0" fill="#fff" stroke="#5aa0d8" stroke-width="0.7"/>
<path transform="translate(111 442.6) rotate(90) scale(1 1)" d="M0 0 V-2.6 A2.6 2.6 0 0 1 2.6 0" fill="#fff" stroke="#5aa0d8" stroke-width="0.7"/>
<rect x="67" y="460" width="12.6" height="54" fill="#a9dbf3" stroke="#3d7fd0" stroke-width="0.6"/>
<path d="M79.6 487 H165" fill="none" stroke="#544c48" stroke-width="1.25" />
<path d="M117 442 V457.5 M108 442 V452.5 M117 516 V531 M108 519.7 V531" fill="none" stroke="#544c48" stroke-width="1.25" />
<path d="M95.5 452.5 L108 452.5 L108 457.5 L136.3 457.5 L136.3 452.5 L143 452.5 L143 465.0 L144.5 465.0 L144.5 506 L143 506 L143 521 L136.3 521 L136.3 516 L108 516 L108 519.7 L95.5 519.7 L95.5 506 L90.5 506 L90.5 465.0 L95.5 465.0Z" fill="#fab8aa" stroke="#f63cf0" stroke-width="0.9" />
<path d="M90.5 487 H144.5" fill="none" stroke="#f63cf0" stroke-width="0.8" />
<text class="ss" x="118" y="477.028" font-size="9.8" text-anchor="middle" fill="#1c1c1c" >10P1ª</text>
<text class="ss" x="118" y="504.528" font-size="9.8" text-anchor="middle" fill="#1c1c1c" >12P1ª</text>
<text class="ss" x="161.5" y="451.492" font-size="9.7" text-anchor="end" fill="#1e1e1e" >9PB</text>
<text class="ss" x="163" y="530.492" font-size="9.7" text-anchor="end" fill="#1e1e1e" >11PB</text>
<use href="#car" x="-10.5" y="-3.75" width="21" height="7.5" transform="translate(82.5 449.5) rotate(0)"/>
<use href="#car" x="-10.5" y="-3.75" width="21" height="7.5" transform="translate(82.5 523.5) rotate(0)"/>
<text class="ss" x="73.3" y="475" font-size="7.2" text-anchor="middle" fill="#223" >28</text>
<text class="ss" x="73.3" y="503" font-size="5.6" text-anchor="middle" fill="#e8f6ff" >27</text>
<rect x="69.5" y="483.5" width="10" height="7.5" fill="#5b7f9c"/>
<path d="M108 540 H66.5 V629.5 H108 M117 540 H165 V629.5 H117" fill="none" stroke="#544c48" stroke-width="1.25" />
<path transform="translate(161.8 584.4) rotate(180) scale(1 1)" d="M0 0 V-2.8 A2.8 2.8 0 0 1 2.8 0" fill="#fff" stroke="#5aa0d8" stroke-width="0.7"/>
<path transform="translate(161.8 585.6) rotate(90) scale(1 1)" d="M0 0 V-2.8 A2.8 2.8 0 0 1 2.8 0" fill="#fff" stroke="#5aa0d8" stroke-width="0.7"/>
<path transform="translate(111 540.6) rotate(90) scale(1 1)" d="M0 0 V-2.6 A2.6 2.6 0 0 1 2.6 0" fill="#fff" stroke="#5aa0d8" stroke-width="0.7"/>
<rect x="67" y="562" width="12.6" height="43" fill="#a9dbf3" stroke="#3d7fd0" stroke-width="0.6"/>
<path d="M79.6 585 H165" fill="none" stroke="#544c48" stroke-width="1.25" />
<path d="M117 540 V555.5 M108 540 V550.5 M117 614.5 V629.5 M108 618.2 V629.5" fill="none" stroke="#544c48" stroke-width="1.25" />
<path d="M95.5 550.5 L108 550.5 L108 555.5 L136.3 555.5 L136.3 550.5 L143 550.5 L143 563.0 L144.5 563.0 L144.5 604.5 L143 604.5 L143 619.5 L136.3 619.5 L136.3 614.5 L108 614.5 L108 618.2 L95.5 618.2 L95.5 604.5 L90.5 604.5 L90.5 563.0 L95.5 563.0Z" fill="#fab8aa" stroke="#f63cf0" stroke-width="0.9" />
<path d="M90.5 585 H144.5" fill="none" stroke="#f63cf0" stroke-width="0.8" />
<text class="ss" x="118" y="576.028" font-size="9.8" text-anchor="middle" fill="#1c1c1c" >14P1ª</text>
<text class="ss" x="118" y="602.528" font-size="9.8" text-anchor="middle" fill="#1c1c1c" >16P1ª</text>
<text class="ss" x="163.2" y="560.492" font-size="9.7" text-anchor="end" fill="#1e1e1e" >12bPB</text>
<text class="ss" x="163" y="624.492" font-size="9.7" text-anchor="end" fill="#1e1e1e" >15PB</text>
<use href="#car" x="-10.5" y="-3.75" width="21" height="7.5" transform="translate(82.5 547.5) rotate(0)"/>
<use href="#car" x="-10.5" y="-3.75" width="21" height="7.5" transform="translate(82.5 622.5) rotate(0)"/>
<text class="ss" x="73.3" y="568" font-size="7.2" text-anchor="middle" fill="#223" >24</text>
<text class="ss" x="73.3" y="601" font-size="7.2" text-anchor="middle" fill="#223" >23</text>
<path transform="translate(70 427) rotate(0) scale(1 1)" d="M0 0 V-3.2 A3.2 3.2 0 0 1 3.2 0" fill="#fff" stroke="#5aa0d8" stroke-width="0.7"/>
<path transform="translate(70 450) rotate(0) scale(1 1)" d="M0 0 V-3.2 A3.2 3.2 0 0 1 3.2 0" fill="#fff" stroke="#5aa0d8" stroke-width="0.7"/>
<path transform="translate(70 524) rotate(0) scale(1 1)" d="M0 0 V-3.2 A3.2 3.2 0 0 1 3.2 0" fill="#fff" stroke="#5aa0d8" stroke-width="0.7"/>
<path transform="translate(70 548) rotate(0) scale(1 1)" d="M0 0 V-3.2 A3.2 3.2 0 0 1 3.2 0" fill="#fff" stroke="#5aa0d8" stroke-width="0.7"/>
<path transform="translate(70 623) rotate(0) scale(1 1)" d="M0 0 V-3.2 A3.2 3.2 0 0 1 3.2 0" fill="#fff" stroke="#5aa0d8" stroke-width="0.7"/>
<g transform="translate(116.3 334) rotate(0)"><rect x="-19.75" y="-5.0" width="39.5" height="10" fill="#f9c9e2" stroke="#40343a" stroke-width="0.9"/><text class="sf" x="0" y="2.69" font-size="7.9" text-anchor="middle" fill="#2a1c24" textLength="34.5" lengthAdjust="spacingAndGlyphs">BLOQUE 2</text></g>
<g transform="translate(161.5 485.5) rotate(-90)"><rect x="-19.5" y="-4.6" width="39" height="9.2" fill="#f9c9e2" stroke="#40343a" stroke-width="0.9"/><text class="sf" x="0" y="2.69" font-size="7.9" text-anchor="middle" fill="#2a1c24" textLength="34" lengthAdjust="spacingAndGlyphs">BLOQUE 3</text></g>
<g transform="translate(161.5 586) rotate(-90)"><rect x="-20.0" y="-4.6" width="40" height="9.2" fill="#f9c9e2" stroke="#40343a" stroke-width="0.9"/><text class="sf" x="0" y="2.69" font-size="7.9" text-anchor="middle" fill="#2a1c24" textLength="35" lengthAdjust="spacingAndGlyphs">BLOQUE 4</text></g>
<path d="M169.5 378.7 V349.5 H266.8 V378.7 M169.5 387.4 V435.8 H266.8 V387.4" fill="none" stroke="#544c48" stroke-width="1.25" />
<path d="M169.5 378.7 H183.6 M252.7 378.7 H266.8" fill="none" stroke="#544c48" stroke-width="1.25" />
<path d="M169.5 387.4 H188.5 M247.8 387.4 H266.8 M218.2 349.5 V362 M218.2 414 V435.8" fill="none" stroke="#544c48" stroke-width="1.25" />
<path d="M183 366 L195 366 L195 361.5 L241 361.5 L241 366 L253 366 L253 380 L247 380 L247 407.5 L253 407.5 L253 413 L240 413 L240 415 L196 415 L196 413 L183 413 L183 407.5 L189 407.5 L189 380 L183 380Z" fill="#fab8aa" stroke="#f63cf0" stroke-width="0.9" />
<path d="M218.3 361.5 V415" fill="none" stroke="#f63cf0" stroke-width="0.8" />
<text class="ss" x="203.4" y="392.528" font-size="9.8" text-anchor="middle" fill="#1c1c1c" >4P1ª</text>
<text class="ss" x="233.8" y="392.528" font-size="9.8" text-anchor="middle" fill="#1c1c1c" >2P1ª</text>
<text class="ss" x="179.5" y="428.992" font-size="9.7" text-anchor="start" fill="#1e1e1e" >3PB</text>
<text class="ss" x="237.5" y="430.492" font-size="9.7" text-anchor="start" fill="#1e1e1e" >1PB</text>
<use href="#car" x="-9.5" y="-3.75" width="19" height="7.5" transform="translate(177.2 361.6) rotate(90)"/>
<use href="#car" x="-9.5" y="-3.75" width="19" height="7.5" transform="translate(258.9 361.6) rotate(90)"/>
<path transform="translate(212.3 435.2) rotate(0) scale(1 1)" d="M0 0 V-4.4 A4.4 4.4 0 0 1 4.4 0" fill="#fff" stroke="#5aa0d8" stroke-width="0.7"/>
<path transform="translate(224.2 435.2) rotate(0) scale(-1 1)" d="M0 0 V-4.4 A4.4 4.4 0 0 1 4.4 0" fill="#fff" stroke="#5aa0d8" stroke-width="0.7"/>
<path transform="translate(172.2 378.2) rotate(0) scale(1 1)" d="M0 0 V-4 A4 4 0 0 1 4 0" fill="#fff" stroke="#5aa0d8" stroke-width="0.7"/>
<path transform="translate(264.2 378.2) rotate(0) scale(-1 1)" d="M0 0 V-4 A4 4 0 0 1 4 0" fill="#fff" stroke="#5aa0d8" stroke-width="0.7"/>
<g transform="translate(217 334) rotate(0)"><rect x="-20.0" y="-5.0" width="40" height="10" fill="#f9c9e2" stroke="#40343a" stroke-width="0.9"/><text class="sf" x="0" y="2.69" font-size="7.9" text-anchor="middle" fill="#2a1c24" textLength="35" lengthAdjust="spacingAndGlyphs">BLOQUE 1</text></g>
<path d="M272.3 349.5 V460 H447" fill="none" stroke="#544c48" stroke-width="1.1" />
<rect x="272.8" y="350" width="17.7" height="97.5" fill="#d6e6cf" stroke="#777" stroke-width="0.6"/>
<rect x="354.5" y="350" width="16" height="107.5" fill="#d6e6cf" stroke="#777" stroke-width="0.6"/>
<path d="M272.8 405.3 H290.2 M272.8 406.5 Q284 414 289 431.5 M272.8 412 Q280 419 284.5 431.5 M290.2 406.5 Q279 414 274 431.5 M290.2 412 Q283 419 278.5 431.5" fill="none" stroke="#666" stroke-width="0.6" />
<path d="M354.5 410.7 H370.5 M354.5 412 Q365 422 369.5 445 M354.5 419 Q361 428 365 445 M370.5 412 Q360 422 355.5 445 M370.5 419 Q364 428 360 445" fill="none" stroke="#666" stroke-width="0.6" />
<path d="M281.5 372 V404 M362.5 372 V409" fill="none" stroke="#777" stroke-width="0.5" />
<use href="#car" x="-8.5" y="-3.75" width="17" height="7.5" transform="translate(281.5 362.5) rotate(90)"/>
<use href="#car" x="-8.5" y="-3.75" width="17" height="7.5" transform="translate(281.5 436) rotate(90)"/>
<use href="#car" x="-9.0" y="-3.75" width="18" height="7.5" transform="translate(362.5 364) rotate(90)"/>
<use href="#car" x="-8.5" y="-3.75" width="17" height="7.5" transform="translate(362.5 448) rotate(90)"/>
<path d="M290.2 368.1 L324.3 368.1 L324.3 405.3 L320.5 405.3 L320.5 410.7 L340.2 410.7 L340.2 432 L290.2 432Z" fill="#a3d88f" stroke="#f63cf0" stroke-width="0.8" />
<path d="M290.5 368 V432.5" fill="none" stroke="#7ab070" stroke-width="0.8" />
<rect x="341" y="411" width="10.5" height="20.5" fill="#fff" stroke="#999" stroke-width="0.4"/>
<path d="M341 413.5 h10.5 M341 416.5 h10.5 M341 419.5 h10.5 M341 422.5 h10.5 M341 425.5 h10.5 M341 428.5 h10.5" fill="none" stroke="#999" stroke-width="0.5" />
<path d="M370 397.5 L390 397.5 L390 416.5 L396 416.5 L396 413 L434 413 L434 447.5 L370 447.5Z" fill="#a3d88f" stroke="#f63cf0" stroke-width="0.8" />
<path d="M370 397.5 V447.5" fill="none" stroke="#7ab070" stroke-width="0.8" />
<path d="M410 418 h6" fill="none" stroke="#5a7a50" stroke-width="0.5" />
<rect x="371" y="377.8" width="19.5" height="19.4" fill="#fff" stroke="#aaa" stroke-width="0.4"/>
<path d="M371 381 h19.5 M371 384.2 h19.5 M371 387.4 h19.5 M371 390.6 h19.5 M371 393.8 h19.5" fill="none" stroke="#999" stroke-width="0.5" />
<rect x="370" y="378" width="2.6" height="2.6" fill="#5a8a20"/><rect x="370" y="394" width="2.6" height="2.6" fill="#5a8a20"/><rect x="388.8" y="377.5" width="1.6" height="1.6" fill="#f05070"/>
<rect x="275" y="348" width="13" height="3.6" fill="#b8c0c0" stroke="#555" stroke-width="0.5"/><rect x="355.5" y="348" width="13" height="3.6" fill="#b8c0c0" stroke="#555" stroke-width="0.5"/><rect x="313" y="348.5" width="8" height="3" fill="#c8d0d0" stroke="#666" stroke-width="0.4"/>
<rect x="260" y="440.5" width="4" height="17" rx="1.5" fill="#e8f0e0" stroke="#889" stroke-width="0.4"/><circle cx="262" cy="443" r="1.7" fill="#2f8a3a"/><circle cx="262" cy="456" r="1.7" fill="#2f8a3a"/><rect x="260.7" y="446.5" width="2.6" height="6" rx="1" fill="#b8c4b8" stroke="#667" stroke-width="0.3"/>
<path d="M352.5 344 V464" fill="none" stroke="#d81e28" stroke-width="1.1" />
<g transform="translate(317.5 334) rotate(0)"><rect x="-19.75" y="-5.0" width="39.5" height="10" fill="#f9c9e2" stroke="#40343a" stroke-width="0.9"/><text class="sf" x="0" y="2.69" font-size="7.9" text-anchor="middle" fill="#2a1c24" textLength="34.5" lengthAdjust="spacingAndGlyphs">VILLA 50</text></g>
<g transform="translate(388 331) rotate(0)"><rect x="-20.0" y="-5.0" width="40" height="10" fill="#f9c9e2" stroke="#40343a" stroke-width="0.9"/><text class="sf" x="0" y="2.69" font-size="7.9" text-anchor="middle" fill="#2a1c24" textLength="35" lengthAdjust="spacingAndGlyphs">VILLA 49</text></g>
<path d="M352 349.5 H401.3 C410 350.3 415 356 419 364 C424 374 432 381 442.4 388.7 C448 393 451 398 450.8 406 L446 447" fill="none" stroke="#3c3440" stroke-width="1.5" />
<path d="M447.2 416.5 l-3.6 6.3 h4.2z" fill="#fff" stroke="#6aa8d8" stroke-width="0.5"/><rect x="448.7" y="408" width="1.6" height="8" fill="#98a040"/>
<rect x="169.5" y="441" width="83" height="189.5" fill="url(#pav)" stroke="#4c4c4c" stroke-width="1.2"/>
<rect x="170.2" y="441.7" width="81.6" height="5.6" fill="#4f8a3c"/><rect x="191" y="441.7" width="40" height="4.4" fill="#8aa070"/><rect x="191" y="446" width="40" height="1.6" fill="#b0a392"/>
<rect x="170.2" y="624" width="81.6" height="5.8" fill="#7d9460"/><rect x="170.2" y="624" width="9" height="5.8" fill="#3f7a34"/><rect x="242.8" y="624" width="9" height="5.8" fill="#3f7a34"/>
<path d="M170.2 623.8 H251.8 M170.2 447.9 H190.4 M231.6 447.9 H251.8" stroke="#ef7d6c" stroke-width="1.3" fill="none"/>
<circle cx="173.0" cy="444.3" r="1.5" fill="#2f7a30"/><circle cx="173.0" cy="627" r="1.5" fill="#a4d838"/>
<circle cx="178.8" cy="444.3" r="1.5" fill="#9ad06a"/><circle cx="178.8" cy="627" r="1.5" fill="#3f7a34"/>
<circle cx="184.6" cy="444.3" r="1.5" fill="#2f7a30"/><circle cx="184.6" cy="627" r="1.5" fill="#3f7a34"/>
<circle cx="190.4" cy="444.3" r="1.5" fill="#9ad06a"/><circle cx="190.4" cy="627" r="1.5" fill="#a4d838"/>
<circle cx="196.2" cy="444.3" r="1.5" fill="#2f7a30"/><circle cx="196.2" cy="627" r="1.5" fill="#3f7a34"/>
<circle cx="202.0" cy="444.3" r="1.5" fill="#9ad06a"/><circle cx="202.0" cy="627" r="1.5" fill="#3f7a34"/>
<circle cx="207.8" cy="444.3" r="1.5" fill="#2f7a30"/><circle cx="207.8" cy="627" r="1.5" fill="#a4d838"/>
<circle cx="213.6" cy="444.3" r="1.5" fill="#9ad06a"/><circle cx="213.6" cy="627" r="1.5" fill="#3f7a34"/>
<circle cx="219.4" cy="444.3" r="1.5" fill="#2f7a30"/><circle cx="219.4" cy="627" r="1.5" fill="#3f7a34"/>
<circle cx="225.2" cy="444.3" r="1.5" fill="#9ad06a"/><circle cx="225.2" cy="627" r="1.5" fill="#a4d838"/>
<circle cx="231.0" cy="444.3" r="1.5" fill="#2f7a30"/><circle cx="231.0" cy="627" r="1.5" fill="#3f7a34"/>
<circle cx="236.8" cy="444.3" r="1.5" fill="#9ad06a"/><circle cx="236.8" cy="627" r="1.5" fill="#3f7a34"/>
<circle cx="242.6" cy="444.3" r="1.5" fill="#2f7a30"/><circle cx="242.6" cy="627" r="1.5" fill="#a4d838"/>
<circle cx="248.4" cy="444.3" r="1.5" fill="#9ad06a"/><circle cx="248.4" cy="627" r="1.5" fill="#3f7a34"/>
<path d="M171 484 V590 M251 484 V590" stroke="#7a58b0" stroke-width="1.4" stroke-dasharray="1.2 2.2"/><path d="M171 485.7 V590 M251 485.7 V590" stroke="#78b84a" stroke-width="1.4" stroke-dasharray="1.2 2.2"/>
<path d="M252.3 484 V592" fill="none" stroke="#e06060" stroke-width="0.6" />
<path d="M170.3 448 H190.4 V459.5 C183 461.5 181.5 466 181.8 470 C181.5 476 176 480 170.3 482.5 Z" fill="#dde189"/>
<path d="M190.4 448 V459.5 C183 461.5 181.5 466 181.8 470 C181.5 476 176 480 170.3 482.5" fill="none" stroke="#ef7d6c" stroke-width="1.5"/>
<path d="M251.7 448 H231.6 V459.5 C239 461.5 240.5 466 240.2 470 C240.5 476 246 480 251.7 482.5 Z" fill="#dde189"/>
<path d="M231.6 448 V459.5 C239 461.5 240.5 466 240.2 470 C240.5 476 246 480 251.7 482.5" fill="none" stroke="#ef7d6c" stroke-width="1.5"/>
<path d="M170.3 623.5 H190.4 V613 C183 611 181.5 606 181.8 603 C181.5 597 176 593 170.3 590.5 Z" fill="#dde189"/>
<path d="M190.4 623.5 V613 C183 611 181.5 606 181.8 603 C181.5 597 176 593 170.3 590.5" fill="none" stroke="#ef7d6c" stroke-width="1.5"/>
<path d="M251.7 623.5 H231.6 V613 C239 611 240.5 606 240.2 603 C240.5 597 246 593 251.7 590.5 Z" fill="#dde189"/>
<path d="M231.6 623.5 V613 C239 611 240.5 606 240.2 603 C240.5 597 246 593 251.7 590.5" fill="none" stroke="#ef7d6c" stroke-width="1.5"/>
<circle cx="188.7" cy="468.8" r="4.6" fill="none" stroke="#ef7d6c" stroke-width="1.1"/><circle cx="188.7" cy="468.8" r="3.6" fill="#2f7d32"/>
<circle cx="233.3" cy="468.8" r="4.6" fill="none" stroke="#ef7d6c" stroke-width="1.1"/><circle cx="233.3" cy="468.8" r="3.6" fill="#2f7d32"/>
<circle cx="178.8" cy="616.3" r="4.6" fill="#d8e060" stroke="#ef7d6c" stroke-width="0.8"/><circle cx="178.8" cy="616.3" r="3.6" fill="#3f8a2c"/>
<circle cx="243.2" cy="616.3" r="4.6" fill="#d8e060" stroke="#ef7d6c" stroke-width="0.8"/><circle cx="243.2" cy="616.3" r="3.6" fill="#3f8a2c"/>
<path d="M176 457.5 h4 M242 457.5 h4 M176 600 h4 M242 600 h4 M208 463 q3 -1.6 6 0 M208 605 h6" fill="none" stroke="#3a3a3a" stroke-width="0.6" />
<ellipse cx="198.9" cy="463.2" rx="2" ry="2.9" fill="#8d8d96"/>
<ellipse cx="206" cy="463.2" rx="2" ry="2.9" fill="#8d8d96"/>
<ellipse cx="215.5" cy="463.2" rx="2" ry="2.9" fill="#8d8d96"/>
<ellipse cx="222.7" cy="463.2" rx="2" ry="2.9" fill="#8d8d96"/>
<rect x="207.3" y="618.2" width="7.4" height="3.2" rx="0.6" fill="#b8b0a4" stroke="#7a7468" stroke-width="0.4"/>
<rect x="176" y="485.6" width="16.4" height="30.6" fill="#dde189" stroke="#ef7d6c" stroke-width="1.5"/>
<ellipse cx="184.2" cy="490.6" rx="3.2" ry="1.8" fill="#74747e"/>
<ellipse cx="184.2" cy="497.5" rx="3.2" ry="1.8" fill="#74747e"/>
<ellipse cx="184.2" cy="504.3" rx="3.2" ry="1.8" fill="#74747e"/>
<ellipse cx="184.2" cy="511.2" rx="3.2" ry="1.8" fill="#74747e"/>
<rect x="229.6" y="485.6" width="16.4" height="30.6" fill="#dde189" stroke="#ef7d6c" stroke-width="1.5"/>
<ellipse cx="237.79999999999998" cy="490.6" rx="3.2" ry="1.8" fill="#74747e"/>
<ellipse cx="237.79999999999998" cy="497.5" rx="3.2" ry="1.8" fill="#74747e"/>
<ellipse cx="237.79999999999998" cy="504.3" rx="3.2" ry="1.8" fill="#74747e"/>
<ellipse cx="237.79999999999998" cy="511.2" rx="3.2" ry="1.8" fill="#74747e"/>
<rect x="176" y="555" width="16.4" height="31.8" fill="#dde189" stroke="#ef7d6c" stroke-width="1.5"/>
<ellipse cx="184.2" cy="560.0" rx="3.2" ry="1.8" fill="#74747e"/>
<ellipse cx="184.2" cy="567.3" rx="3.2" ry="1.8" fill="#74747e"/>
<ellipse cx="184.2" cy="574.5" rx="3.2" ry="1.8" fill="#74747e"/>
<ellipse cx="184.2" cy="581.8" rx="3.2" ry="1.8" fill="#74747e"/>
<rect x="229.6" y="555" width="16.4" height="31.8" fill="#dde189" stroke="#ef7d6c" stroke-width="1.5"/>
<ellipse cx="237.79999999999998" cy="560.0" rx="3.2" ry="1.8" fill="#74747e"/>
<ellipse cx="237.79999999999998" cy="567.3" rx="3.2" ry="1.8" fill="#74747e"/>
<ellipse cx="237.79999999999998" cy="574.5" rx="3.2" ry="1.8" fill="#74747e"/>
<ellipse cx="237.79999999999998" cy="581.8" rx="3.2" ry="1.8" fill="#74747e"/>
<path d="M197.6 487.5 Q211 480.5 224.4 487.5 V519 L227.5 521.5 H237.5 Q244.5 535.5 237.5 549.5 H227.5 L224.4 552 V584.5 Q211 591 197.6 584.5 V552 L194.5 549.5 H184.5 Q177.5 535.5 184.5 521.5 H194.5 L197.6 519 Z" fill="#a9d7f3" stroke="#5a5040" stroke-width="2.6"/>
<path d="M197.6 487.5 Q211 480.5 224.4 487.5 V519 L227.5 521.5 H237.5 Q244.5 535.5 237.5 549.5 H227.5 L224.4 552 V584.5 Q211 591 197.6 584.5 V552 L194.5 549.5 H184.5 Q177.5 535.5 184.5 521.5 H194.5 L197.6 519 Z" fill="#a9d7f3" stroke="#efe3c0" stroke-width="1.5"/>
<rect x="180" y="533.5" width="1.8" height="3.4" fill="#333"/><rect x="240.4" y="533.5" width="1.8" height="3.4" fill="#333"/><rect x="210.5" y="586.8" width="1" height="2.6" fill="#333"/>
<path transform="translate(224.3 636.5) rotate(90) scale(1 1)" d="M0 0 V-3 A3 3 0 0 1 3 0" fill="#fff" stroke="#5aa0d8" stroke-width="0.7"/>
<path transform="translate(233.5 636.5) rotate(90) scale(1 1)" d="M0 0 V-3 A3 3 0 0 1 3 0" fill="#fff" stroke="#5aa0d8" stroke-width="0.7"/>
<path d="M305.7 465.3 H257.3 V545 H305.7 V534.5 M305.7 465.3 V475.8" fill="none" stroke="#544c48" stroke-width="1.25" />
<path d="M257.3 505.4 H343.4" fill="none" stroke="#544c48" stroke-width="1.25" />
<path d="M314.3 475.8 V465.3 H343.4 V545 H314.3 V534.5" fill="none" stroke="#544c48" stroke-width="1.25" />
<path d="M279.2 470.6 L285.8 470.6 L285.8 475.9 L313 475.9 L313 470.6 L327.6 470.6 L327.6 481.2 L332 481.2 L332 528.3 L327.6 528.3 L327.6 540 L313 540 L313 534.9 L285.8 534.9 L285.8 540 L279.2 540Z" fill="#fab8aa" stroke="#f63cf0" stroke-width="0.9" />
<path d="M279.2 505.3 H332" fill="none" stroke="#f63cf0" stroke-width="0.8" />
<text class="ss" x="304.7" y="496.728" font-size="9.8" text-anchor="middle" fill="#1c1c1c" >48P1ª</text>
<text class="ss" x="305.3" y="521.928" font-size="9.8" text-anchor="middle" fill="#1c1c1c" >46P1ª</text>
<text class="ss" x="258.2" y="487.392" font-size="9.7" text-anchor="start" fill="#1e1e1e" >47PB</text>
<text class="ss" x="258.6" y="533.7919999999999" font-size="9.7" text-anchor="start" fill="#1e1e1e" >45PB</text>
<g transform="translate(260.5 506.5) rotate(-90)"><rect x="-20.6" y="-4.7" width="41.2" height="9.4" fill="#f9c9e2" stroke="#40343a" stroke-width="0.9"/><text class="sf" x="0" y="2.69" font-size="7.9" text-anchor="middle" fill="#2a1c24" textLength="36.2" lengthAdjust="spacingAndGlyphs">BLOQUE 11</text></g>
<path d="M372.7 475.7 V465.5 H343.4 M343.4 544.6 H372.7 V534.5" fill="none" stroke="#544c48" stroke-width="1.25" />
<path d="M343.4 505.3 H437.8" fill="none" stroke="#544c48" stroke-width="1.25" />
<path d="M380.7 475.7 V465.5 H443.6 M380.7 534.5 V544.6 H432.5" fill="none" stroke="#544c48" stroke-width="1.25" />
<path d="M359.8 470.6 L372.7 470.6 L372.7 475.7 L400.8 475.7 L400.8 470.6 L407.6 470.6 L407.6 539.8 L400.8 539.8 L400.8 534.5 L372.7 534.5 L372.7 539.5 L359.8 539.5 L359.8 528.4 L355.2 528.4 L355.2 481.7 L359.8 481.7Z" fill="#fab8aa" stroke="#f63cf0" stroke-width="0.9" />
<path d="M355.2 505.3 H407.6" fill="none" stroke="#f63cf0" stroke-width="0.8" />
<text class="ss" x="386.3" y="496.228" font-size="9.8" text-anchor="middle" fill="#1c1c1c" >44P1ª</text>
<text class="ss" x="386.3" y="522.028" font-size="9.8" text-anchor="middle" fill="#1c1c1c" >42P1ª</text>
<text class="ss" x="410.5" y="496.192" font-size="9.7" text-anchor="start" fill="#1e1e1e" >43PB</text>
<text class="ss" x="408.6" y="526.092" font-size="9.7" text-anchor="start" fill="#1e1e1e" >41PB</text>
<use href="#car" x="-9.5" y="-3.75" width="19" height="7.5" transform="translate(428.1 474) rotate(0)"/>
<use href="#car" x="-9.5" y="-3.75" width="19" height="7.5" transform="translate(418.3 536) rotate(0)"/>
<path transform="translate(383 468.5) rotate(90) scale(1 1)" d="M0 0 V-2.6 A2.6 2.6 0 0 1 2.6 0" fill="#fff" stroke="#5aa0d8" stroke-width="0.7"/>
<path transform="translate(383 541.5) rotate(0) scale(1 1)" d="M0 0 V-2.6 A2.6 2.6 0 0 1 2.6 0" fill="#fff" stroke="#5aa0d8" stroke-width="0.7"/>
<path d="M296.4 561.2 V550.6 H257.3 V630.5 H296.4 V620.6" fill="none" stroke="#544c48" stroke-width="1.25" />
<path d="M257.3 590.8 H333.4 M305.3 556 V550.6 H333.4 V630.5 H305.3 V625" fill="none" stroke="#544c48" stroke-width="1.25" />
<path d="M269.9 555.6 L276.5 555.6 L276.5 561.2 L305 561.2 L305 555.9 L317.9 555.9 L317.9 566.2 L322.6 566.2 L322.6 614 L317.9 614 L317.9 625.2 L305 625.2 L305 620.6 L276.5 620.6 L276.5 625.5 L269.9 625.5Z" fill="#f9c2de" stroke="#f63cf0" stroke-width="0.9" />
<path d="M269.9 590.8 H322.6" fill="none" stroke="#f63cf0" stroke-width="0.8" />
<text class="ss" x="299.7" y="583.2280000000001" font-size="9.8" text-anchor="middle" fill="#1c1c1c" >40P1ª</text>
<text class="ss" x="295.9" y="606.928" font-size="9.8" text-anchor="middle" fill="#1c1c1c" >38P1ª</text>
<text class="ss" x="260.4" y="568.3919999999999" font-size="9.7" text-anchor="start" fill="#1e1e1e" >39PB</text>
<text class="ss" x="258.4" y="622.7919999999999" font-size="9.7" text-anchor="start" fill="#1e1e1e" >37PB</text>
<g transform="translate(260.4 591.8) rotate(-90)"><rect x="-19.5" y="-4.65" width="39" height="9.3" fill="#f9c9e2" stroke="#40343a" stroke-width="0.9"/><text class="sf" x="0" y="2.69" font-size="7.9" text-anchor="middle" fill="#2a1c24" textLength="34" lengthAdjust="spacingAndGlyphs">BLOQUE 9</text></g>
<path d="M333.4 550.6 H430.5 M333.4 630.5 H419 M333.4 590.6 H424.5" fill="none" stroke="#544c48" stroke-width="1.25" />
<path d="M370 551 V560 M370 630.5 V621" fill="none" stroke="#544c48" stroke-width="1.25" />
<path d="M344.5 566.5 L349.5 566.5 L349.5 555.5 L362 555.5 L362 561 L390 561 L390 555.5 L397.5 555.5 L397.5 625 L390 625 L390 620 L362 620 L362 625 L349.5 625 L349.5 614.5 L344.5 614.5Z" fill="#f9c2de" stroke="#f63cf0" stroke-width="0.9" />
<path d="M344.5 590.5 H397.5" fill="none" stroke="#f63cf0" stroke-width="0.8" />
<text class="ss" x="372.6" y="580.828" font-size="9.8" text-anchor="middle" fill="#1c1c1c" >36P1ª</text>
<text class="ss" x="372.6" y="607.028" font-size="9.8" text-anchor="middle" fill="#1c1c1c" >34P1ª</text>
<text class="ss" x="398.4" y="581.2919999999999" font-size="9.7" text-anchor="start" fill="#1e1e1e" >35PB</text>
<text class="ss" x="396.4" y="613.492" font-size="9.7" text-anchor="start" fill="#1e1e1e" >33PB</text>
<use href="#car" x="-9.5" y="-3.75" width="19" height="7.5" transform="translate(417.5 559) rotate(0)"/>
<use href="#car" x="-9.5" y="-3.75" width="19" height="7.5" transform="translate(407.5 621.5) rotate(0)"/>
<path transform="translate(371.5 554.5) rotate(90) scale(1 1)" d="M0 0 V-2.6 A2.6 2.6 0 0 1 2.6 0" fill="#fff" stroke="#5aa0d8" stroke-width="0.7"/>
<path transform="translate(371.5 626.5) rotate(0) scale(1 1)" d="M0 0 V-2.6 A2.6 2.6 0 0 1 2.6 0" fill="#fff" stroke="#5aa0d8" stroke-width="0.7"/>
<path d="M96 636.2 H67.3 V747.5 H96 M104.7 636.2 H150.3 V747.5 H104.7" fill="none" stroke="#544c48" stroke-width="1.25" />
<path d="M96 636.2 V652.5 M104.7 657.5 V636.2 M67.3 687 H150.3 M104.7 716.6 V747.5 M96.2 727.5 V722" fill="none" stroke="#544c48" stroke-width="1.25" />
<path d="M83.8 652.5 L96.3 652.5 L96.3 657.5 L123.8 657.5 L123.8 652.5 L131.3 652.5 L131.3 663.8 L132.5 663.8 L132.5 710.7 L131.3 710.7 L131.3 722 L123.8 722 L123.8 717.7 L96.3 717.7 L96.3 722 L83.8 722 L83.8 710.7 L78.8 710.7 L78.8 663.8 L83.8 663.8Z" fill="#f9c2de" stroke="#f63cf0" stroke-width="0.9" />
<path d="M78.8 687 H132.5" fill="none" stroke="#f63cf0" stroke-width="0.8" />
<text class="ss" x="106.8" y="678.328" font-size="9.8" text-anchor="middle" fill="#1c1c1c" >18P1ª</text>
<text class="ss" x="106.6" y="703.528" font-size="9.8" text-anchor="middle" fill="#1c1c1c" >20P1ª</text>
<text class="ss" x="123.5" y="646.992" font-size="9.7" text-anchor="start" fill="#1e1e1e" >17PB</text>
<text class="ss" x="121" y="733.692" font-size="9.7" text-anchor="start" fill="#1e1e1e" >19PB</text>
<use href="#car" x="-9.5" y="-3.75" width="19" height="7.5" transform="translate(79.5 643) rotate(0)"/>
<rect x="84" y="727.5" width="12.3" height="20" fill="#a9dbf3" stroke="#3d7fd0" stroke-width="0.6"/>
<text class="ss" x="90" y="742" font-size="7.2" text-anchor="middle" fill="#223" >50</text>
<path transform="translate(68.5 747.3) rotate(0) scale(1 1)" d="M0 0 V-5 A5 5 0 0 1 5 0" fill="#fff" stroke="#5aa0d8" stroke-width="0.7"/>
<path transform="translate(81.5 747.3) rotate(-90) scale(1 1)" d="M0 0 V-5 A5 5 0 0 1 5 0" fill="#fff" stroke="#5aa0d8" stroke-width="0.7"/>
<path transform="translate(149.8 686.5) rotate(-90) scale(1 1)" d="M0 0 V-3.6 A3.6 3.6 0 0 1 3.6 0" fill="#fff" stroke="#5aa0d8" stroke-width="0.7"/>
<path transform="translate(149.8 687.5) rotate(180) scale(1 1)" d="M0 0 V-3.6 A3.6 3.6 0 0 1 3.6 0" fill="#fff" stroke="#5aa0d8" stroke-width="0.7"/>
<g transform="translate(60.5 688.3) rotate(-90)"><rect x="-19.25" y="-4.8" width="38.5" height="9.6" fill="#f9c9e2" stroke="#40343a" stroke-width="0.9"/><text class="sf" x="0" y="2.69" font-size="7.9" text-anchor="middle" fill="#2a1c24" textLength="33.5" lengthAdjust="spacingAndGlyphs">BLOQUE 5</text></g>
<path d="M155.5 636 H301.5 V747 H155.5 Z" fill="none" stroke="#544c48" stroke-width="1.25" />
<path d="M155.5 691 H173 M284.5 691 H301.5" fill="none" stroke="#544c48" stroke-width="1.25" />
<path d="M204.5 747 V724.5 H217.5 V747 M239.5 747 V724.5 H252.5 V747" fill="none" stroke="#544c48" stroke-width="1.25" />
<path d="M187.5 648.7 L269.5 648.7 L269.5 682 L261 682 L261 691 L284.5 691 L284.5 732 L252.5 732 L252.5 724.5 L204.5 724.5 L204.5 732 L173 732 L173 691 L196 691 L196 682 L187.5 682Z" fill="#b9d3ee" stroke="#2a32e8" stroke-width="0.8" />
<path d="M228.7 636 V699.5" fill="none" stroke="#544c48" stroke-width="1.0" />
<path d="M228.7 648.7 V699.5 M218.7 691 V724.5 M237.5 691 V724.5 M218.7 699.5 H237.5 M196 691 H218.7 M237.5 691 H261" fill="none" stroke="#2a32e8" stroke-width="0.8" />
<text class="ss" x="206.5" y="668.028" font-size="9.8" text-anchor="middle" fill="#1c1c1c" >26P1ª</text>
<text class="ss" x="248" y="668.028" font-size="9.8" text-anchor="middle" fill="#1c1c1c" >27P1ª</text>
<text class="ss" x="196.5" y="716.528" font-size="9.8" text-anchor="middle" fill="#1c1c1c" >25P1ª</text>
<text class="ss" x="258" y="714.528" font-size="9.8" text-anchor="middle" fill="#1c1c1c" >28P1ª</text>
<text class="ss" x="161" y="655.492" font-size="9.7" text-anchor="start" fill="#1e1e1e" >22PB</text>
<text class="ss" x="272.5" y="655.492" font-size="9.7" text-anchor="start" fill="#1e1e1e" >23PB</text>
<text class="ss" x="160" y="738.492" font-size="9.7" text-anchor="start" fill="#1e1e1e" >21PB</text>
<text class="ss" x="275.5" y="737.492" font-size="9.7" text-anchor="start" fill="#1e1e1e" >24PB</text>
<use href="#car" x="-9.0" y="-3.5" width="18" height="7" transform="translate(210.5 736.5) rotate(90)"/>
<use href="#car" x="-9.0" y="-3.5" width="18" height="7" transform="translate(246 736.5) rotate(90)"/>
<path transform="translate(157 693) rotate(0) scale(1 1)" d="M0 0 V-2.6 A2.6 2.6 0 0 1 2.6 0" fill="#fff" stroke="#5aa0d8" stroke-width="0.7"/>
<path transform="translate(300 693) rotate(-90) scale(1 1)" d="M0 0 V-2.6 A2.6 2.6 0 0 1 2.6 0" fill="#fff" stroke="#5aa0d8" stroke-width="0.7"/>
<path transform="translate(157 747) rotate(0) scale(1 1)" d="M0 0 V-2.6 A2.6 2.6 0 0 1 2.6 0" fill="#fff" stroke="#5aa0d8" stroke-width="0.7"/>
<path d="M307.2 636.3 H349.4 M357.8 636.3 H418.5 M307.2 636.3 V747 M307.2 678.8 H410.5 M349.4 636.3 V645 M357.8 636.3 V649.4 M349.4 710 V746.5 M357.8 710 V745.5 M307.2 725.4 H349.4" fill="none" stroke="#544c48" stroke-width="1.25" />
<path d="M332.3 656 L336.8 656 L336.8 644.7 L349.4 644.7 L349.4 649.4 L378.1 649.4 L378.1 644.7 L384.4 644.7 L384.4 714.4 L378.1 714.4 L378.1 709.4 L349.4 709.4 L349.4 714.4 L336.8 714.4 L336.8 702.7 L332.3 702.7Z" fill="#f9c2de" stroke="#f63cf0" stroke-width="0.9" />
<path d="M332.3 678.8 H384.4" fill="none" stroke="#f63cf0" stroke-width="0.8" />
<text class="ss" x="361.2" y="671.2280000000001" font-size="9.8" text-anchor="middle" fill="#1c1c1c" >32P1ª</text>
<text class="ss" x="359.2" y="697.2280000000001" font-size="9.8" text-anchor="middle" fill="#1c1c1c" >30P1ª</text>
<text class="ss" x="310.3" y="654.992" font-size="9.7" text-anchor="start" fill="#1e1e1e" >31PB</text>
<text class="ss" x="309.8" y="716.992" font-size="9.7" text-anchor="start" fill="#1e1e1e" >29PB</text>
<rect x="309" y="726" width="40" height="20.5" fill="#a9dbf3" stroke="#3d7fd0" stroke-width="0.5"/>
<path d="M308.5 725 V747" fill="none" stroke="#58b030" stroke-width="1.2" stroke-dasharray="1.5 1.2"/>
<text class="ss" x="315.6" y="739.2" font-size="6.6" text-anchor="middle" fill="#223" >47</text>
<text class="ss" x="325.20000000000005" y="739.2" font-size="6.6" text-anchor="middle" fill="#223" >46</text>
<path d="M320.1 725 V746.5" fill="none" stroke="#7cc0ec" stroke-width="0.5" />
<text class="ss" x="334.8" y="739.2" font-size="6.6" text-anchor="middle" fill="#223" >45</text>
<path d="M329.7 725 V746.5" fill="none" stroke="#7cc0ec" stroke-width="0.5" />
<text class="ss" x="344.40000000000003" y="739.2" font-size="6.6" text-anchor="middle" fill="#223" >44</text>
<path d="M339.3 725 V746.5" fill="none" stroke="#7cc0ec" stroke-width="0.5" />
<use href="#car" x="-9.5" y="-3.75" width="19" height="7.5" transform="translate(366 734) rotate(90)"/>
<use href="#car" x="-9.5" y="-3.75" width="19" height="7.5" transform="translate(405 643.5) rotate(0)"/>
<path transform="translate(358.5 640) rotate(90) scale(1 1)" d="M0 0 V-2.6 A2.6 2.6 0 0 1 2.6 0" fill="#fff" stroke="#5aa0d8" stroke-width="0.7"/>
<path transform="translate(358.5 722) rotate(90) scale(1 1)" d="M0 0 V-2.6 A2.6 2.6 0 0 1 2.6 0" fill="#fff" stroke="#5aa0d8" stroke-width="0.7"/>
<path transform="translate(408 677) rotate(180) scale(1 1)" d="M0 0 V-2.6 A2.6 2.6 0 0 1 2.6 0" fill="#fff" stroke="#5aa0d8" stroke-width="0.7"/>
<path transform="translate(408 682) rotate(90) scale(1 1)" d="M0 0 V-2.6 A2.6 2.6 0 0 1 2.6 0" fill="#fff" stroke="#5aa0d8" stroke-width="0.7"/>
<path d="M446 447 L418.5 636 L405.5 720 C403 737 396 745 386 745.3 L301 746.2" fill="none" stroke="#3c3440" stroke-width="1.4" />
<path d="M34 349.5 H352" fill="none" stroke="#544c48" stroke-width="1.0" />
<path d="M66.5 748 L155.5 747.3" fill="none" stroke="#544c48" stroke-width="1.0" />
<g transform="translate(443.8 507.5) rotate(-81.5)"><rect x="-21.5" y="-4.8" width="43" height="9.6" fill="#f9c9e2" stroke="#40343a" stroke-width="0.9"/><text class="sf" x="0" y="2.69" font-size="7.9" text-anchor="middle" fill="#2a1c24" textLength="38" lengthAdjust="spacingAndGlyphs">BLOQUE 10</text></g>
<g transform="translate(430.2 597.5) rotate(-81.5)"><rect x="-20.0" y="-4.8" width="40" height="9.6" fill="#f9c9e2" stroke="#40343a" stroke-width="0.9"/><text class="sf" x="0" y="2.69" font-size="7.9" text-anchor="middle" fill="#2a1c24" textLength="35" lengthAdjust="spacingAndGlyphs">BLOQUE 8</text></g>
<g transform="translate(418.8 682.5) rotate(-80.5)"><rect x="-20.0" y="-4.8" width="40" height="9.6" fill="#f9c9e2" stroke="#40343a" stroke-width="0.9"/><text class="sf" x="0" y="2.69" font-size="7.9" text-anchor="middle" fill="#2a1c24" textLength="35" lengthAdjust="spacingAndGlyphs">BLOQUE 7</text></g>
<g transform="translate(230.5 755) rotate(0)"><rect x="-19.5" y="-5.0" width="39" height="10" fill="#f9c9e2" stroke="#40343a" stroke-width="0.9"/><text class="sf" x="0" y="2.69" font-size="7.9" text-anchor="middle" fill="#2a1c24" textLength="34" lengthAdjust="spacingAndGlyphs">BLOQUE 6</text></g>
</g>
<text class="ss" x="178" y="319.6" font-size="8.6" fill="#222" word-spacing="5.5" textLength="101" lengthAdjust="spacing">Avenida de El Salvador</text>
<text class="ss" x="151" y="773.5" font-size="8.6" fill="#222" word-spacing="5.5" textLength="88" lengthAdjust="spacing">Avenida de Argentina</text>
<text class="ss" font-size="8.6" fill="#222" word-spacing="4" transform="translate(447.5 596) rotate(-79.5)" textLength="68" lengthAdjust="spacing">Calle Número 8</text>
<g id="luisa">
<path d="M562.3 560.8 V509.7 A30.7 30.7 0 0 1 623.7 509.7 V560.8 Z" fill="none" stroke="#ead48a" stroke-width="0.8"/>
<path d="M567.6 556 V509.8 A25.5 25.5 0 0 1 618.6 509.8 V556 Z" fill="#f2c04e"/>
<g clip-path="url(#archclip)"><g fill="none" stroke="#6fa58c" stroke-width="1.15" stroke-linecap="round" opacity="0.88"><path d="M568.6 552.5 Q577 538 590 512.5" stroke-width="0.9"/><path d="M569.0 551.8 Q570.4 537.9 567.9 524.2"/><path d="M569.0 551.8 Q581.2 548.1 593.8 547.8"/><path d="M570.5 549.2 Q572.4 534.2 570.2 519.3"/><path d="M570.5 549.2 Q583.4 544.5 597.1 543.4"/><path d="M572.0 546.5 Q574.6 530.8 572.8 514.9"/><path d="M572.0 546.5 Q585.3 540.7 599.6 538.8"/><path d="M573.6 543.7 Q576.8 527.5 575.5 511.1"/><path d="M573.6 543.7 Q586.9 536.9 601.6 534.0"/><path d="M575.2 540.7 Q579.0 524.5 578.2 507.8"/><path d="M575.2 540.7 Q588.3 533.1 603.0 529.3"/><path d="M576.9 537.5 Q581.2 521.6 581.0 505.0"/><path d="M576.9 537.5 Q589.4 529.2 603.8 524.6"/><path d="M578.7 534.2 Q583.4 518.9 583.7 502.8"/><path d="M578.7 534.2 Q590.4 525.4 604.0 520.2"/><path d="M580.5 530.8 Q585.5 516.3 586.3 501.0"/><path d="M580.5 530.8 Q591.2 521.8 603.9 516.0"/><path d="M582.4 527.2 Q587.5 513.9 588.7 499.7"/><path d="M582.4 527.2 Q591.8 518.2 603.3 512.2"/><path d="M584.4 523.4 Q589.3 511.6 590.9 498.9"/><path d="M584.4 523.4 Q592.3 514.9 602.3 508.9"/><path d="M586.4 519.5 Q591.0 509.5 592.7 498.7"/><path d="M586.4 519.5 Q592.8 511.8 601.0 506.2"/><path d="M588.5 515.4 Q592.4 507.7 594.0 499.1"/><path d="M588.5 515.4 Q593.2 509.1 599.4 504.2"/></g></g>
<g fill="none" stroke="#6fa58c" stroke-width="0.95" stroke-linecap="round" opacity="0.85"><path d="M594 556.5 Q610 549 628.5 535.5" stroke-width="0.9"/><path d="M594.9 556.1 Q595.8 547.0 594.1 538.1"/><path d="M594.9 556.1 Q600.7 555.4 606.6 556.4"/><path d="M597.8 554.6 Q599.1 545.1 597.8 535.6"/><path d="M597.8 554.6 Q604.0 553.8 610.2 554.7"/><path d="M600.8 553.1 Q602.6 543.3 601.6 533.4"/><path d="M600.8 553.1 Q607.2 552.1 613.6 552.8"/><path d="M603.8 551.5 Q606.0 541.6 605.4 531.5"/><path d="M603.8 551.5 Q610.3 550.2 616.8 550.8"/><path d="M606.9 549.7 Q609.4 540.0 609.2 530.0"/><path d="M606.9 549.7 Q613.3 548.3 619.8 548.8"/><path d="M610.0 547.9 Q612.9 538.5 613.0 528.8"/><path d="M610.0 547.9 Q616.2 546.4 622.5 546.6"/><path d="M613.1 545.9 Q616.2 537.1 616.8 527.8"/><path d="M613.1 545.9 Q619.0 544.4 625.1 544.4"/><path d="M616.3 543.9 Q619.5 535.8 620.4 527.2"/><path d="M616.3 543.9 Q621.7 542.3 627.4 542.2"/><path d="M619.6 541.8 Q622.7 534.6 623.8 526.9"/><path d="M619.6 541.8 Q624.4 540.2 629.4 540.0"/><path d="M622.8 539.5 Q625.8 533.5 627.0 527.0"/><path d="M622.8 539.5 Q626.9 538.1 631.3 537.8"/><path d="M626.2 537.2 Q628.7 532.6 629.8 527.4"/><path d="M626.2 537.2 Q629.4 536.0 632.8 535.7"/></g>
<text class="sf" x="546" y="584.7" font-size="26.5" fill="#6fa58c" textLength="96.5" lengthAdjust="spacing">LUISA</text>
<text class="ss" x="558.8" y="596.8" font-size="5.6" font-weight="bold" fill="#ecc96a" textLength="69" lengthAdjust="spacing">RESIDENTIAL</text>
</g>
<text class="sf" x="505" y="654.6" font-size="17.6" fill="#111" textLength="178.7" lengthAdjust="spacing" style="white-space:pre">Manzana B-1 - L   SM-1</text>
<text class="sf" x="527.7" y="675" font-size="15.3" fill="#111" textLength="132" lengthAdjust="spacing">Avenida del Salvador</text>
<g id="compass" transform="translate(609.3 705.5) rotate(-78)" stroke="#f01c24" stroke-width="0.55" fill="none" stroke-linejoin="round">
<g transform="rotate(45)"><path d="M0 0 L-2 -3.6 L0 -10 L2 -3.6 Z" fill="#fff"/><path d="M0 0 L0 -10 L2 -3.6Z" fill="#f01c24"/></g>
<g transform="rotate(135)"><path d="M0 0 L-2 -3.6 L0 -10 L2 -3.6 Z" fill="#fff"/><path d="M0 0 L0 -10 L2 -3.6Z" fill="#f01c24"/></g>
<g transform="rotate(225)"><path d="M0 0 L-2 -3.6 L0 -10 L2 -3.6 Z" fill="#fff"/><path d="M0 0 L0 -10 L2 -3.6Z" fill="#f01c24"/></g>
<g transform="rotate(315)"><path d="M0 0 L-2 -3.6 L0 -10 L2 -3.6 Z" fill="#fff"/><path d="M0 0 L0 -10 L2 -3.6Z" fill="#f01c24"/></g>
<path d="M0 0 L-2.6 -6.5 L0 -35 L2.6 -6.5 Z" fill="#fff"/><path d="M0 0 L0 -35 L2.6 -6.5Z" fill="#f01c24"/>
<g transform="rotate(90)"><path d="M0 0 L-2.5 -5.5 L0 -17 L2.5 -5.5 Z" fill="#fff"/><path d="M0 0 L0 -17 L2.5 -5.5Z" fill="#f01c24"/></g>
<g transform="rotate(180)"><path d="M0 0 L-2.5 -5.5 L0 -17 L2.5 -5.5 Z" fill="#fff"/><path d="M0 0 L0 -17 L2.5 -5.5Z" fill="#f01c24"/></g>
<g transform="rotate(270)"><path d="M0 0 L-2.5 -5.5 L0 -16.6 L2.5 -5.5 Z" fill="#fff"/><path d="M0 0 L0 -16.6 L2.5 -5.5Z" fill="#f01c24"/></g>
</g>
<text class="ss" font-size="9" fill="#f01c24" text-anchor="middle" transform="translate(571.7 694.4) rotate(-78)" y="3.2">N</text>
<text class="ss" font-size="9" fill="#f01c24" text-anchor="middle" transform="translate(613.5 684.8) rotate(12)" y="3.2">E</text>
<text class="ss" font-size="9" fill="#f01c24" text-anchor="middle" transform="translate(628.9 710.2) rotate(102)" y="3.2">S</text>
<text class="ss" font-size="9" fill="#f01c24" text-anchor="middle" transform="translate(602.9 724.9) rotate(192)" y="3.2">O</text>
</svg>
</body></html>
